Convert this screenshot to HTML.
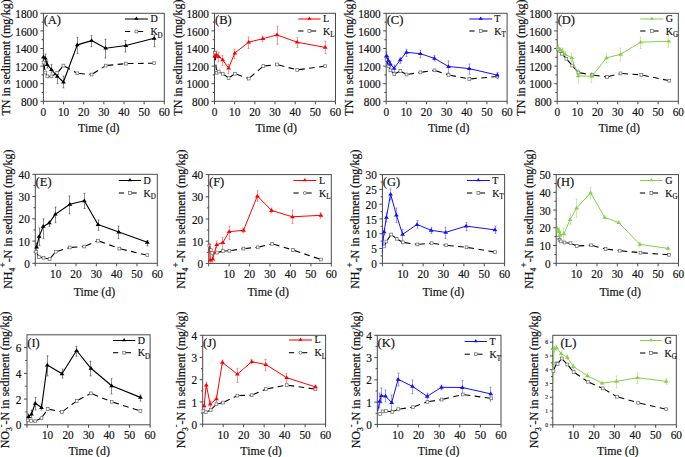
<!DOCTYPE html>
<html><head><meta charset="utf-8"><style>
html,body{margin:0;padding:0;background:#fff;}
body{width:685px;height:457px;overflow:hidden;font-family:"Liberation Serif", serif;}
svg{display:block;} text{stroke:#111;stroke-width:0.18px;}
</style></head><body>
<svg width="685" height="457" viewBox="0 0 685 457" font-family='"Liberation Serif", serif' fill="#111"><g><rect x="43.4" y="13.3" width="120.9" height="88" fill="none" stroke="#4a4a4a" stroke-width="1"/><line x1="43.4" y1="101.3" x2="43.4" y2="104.3" stroke="#4a4a4a" stroke-width="1"/><line x1="63.55" y1="101.3" x2="63.55" y2="104.3" stroke="#4a4a4a" stroke-width="1"/><line x1="83.7" y1="101.3" x2="83.7" y2="104.3" stroke="#4a4a4a" stroke-width="1"/><line x1="103.85" y1="101.3" x2="103.85" y2="104.3" stroke="#4a4a4a" stroke-width="1"/><line x1="124" y1="101.3" x2="124" y2="104.3" stroke="#4a4a4a" stroke-width="1"/><line x1="144.15" y1="101.3" x2="144.15" y2="104.3" stroke="#4a4a4a" stroke-width="1"/><line x1="164.3" y1="101.3" x2="164.3" y2="104.3" stroke="#4a4a4a" stroke-width="1"/><line x1="40.4" y1="101.3" x2="43.4" y2="101.3" stroke="#4a4a4a" stroke-width="1"/><line x1="40.4" y1="83.7" x2="43.4" y2="83.7" stroke="#4a4a4a" stroke-width="1"/><line x1="40.4" y1="66.1" x2="43.4" y2="66.1" stroke="#4a4a4a" stroke-width="1"/><line x1="40.4" y1="48.5" x2="43.4" y2="48.5" stroke="#4a4a4a" stroke-width="1"/><line x1="40.4" y1="30.9" x2="43.4" y2="30.9" stroke="#4a4a4a" stroke-width="1"/><line x1="40.4" y1="13.3" x2="43.4" y2="13.3" stroke="#4a4a4a" stroke-width="1"/><line x1="41.6" y1="92.5" x2="43.4" y2="92.5" stroke="#4a4a4a" stroke-width="1"/><line x1="41.6" y1="74.9" x2="43.4" y2="74.9" stroke="#4a4a4a" stroke-width="1"/><line x1="41.6" y1="57.3" x2="43.4" y2="57.3" stroke="#4a4a4a" stroke-width="1"/><line x1="41.6" y1="39.7" x2="43.4" y2="39.7" stroke="#4a4a4a" stroke-width="1"/><line x1="41.6" y1="22.1" x2="43.4" y2="22.1" stroke="#4a4a4a" stroke-width="1"/><text transform="translate(43.4 115.6) scale(1 1.15)" font-size="11.3" text-anchor="middle">0</text><text transform="translate(63.55 115.6) scale(1 1.15)" font-size="11.3" text-anchor="middle">10</text><text transform="translate(83.7 115.6) scale(1 1.15)" font-size="11.3" text-anchor="middle">20</text><text transform="translate(103.85 115.6) scale(1 1.15)" font-size="11.3" text-anchor="middle">30</text><text transform="translate(124 115.6) scale(1 1.15)" font-size="11.3" text-anchor="middle">40</text><text transform="translate(144.15 115.6) scale(1 1.15)" font-size="11.3" text-anchor="middle">50</text><text transform="translate(164.3 115.6) scale(1 1.15)" font-size="11.3" text-anchor="middle">60</text><text transform="translate(37.9 105.9) scale(1 1.15)" font-size="11.3" text-anchor="end">800</text><text transform="translate(37.9 88.3) scale(1 1.15)" font-size="11.3" text-anchor="end">1000</text><text transform="translate(37.9 70.7) scale(1 1.15)" font-size="11.3" text-anchor="end">1200</text><text transform="translate(37.9 53.1) scale(1 1.15)" font-size="11.3" text-anchor="end">1400</text><text transform="translate(37.9 35.5) scale(1 1.15)" font-size="11.3" text-anchor="end">1600</text><text transform="translate(37.9 17.9) scale(1 1.15)" font-size="11.3" text-anchor="end">1800</text><path d="M45.5 54V62M44.5 54H46.5M44.5 62H46.5" stroke="#333" stroke-width="0.8" opacity="0.7" fill="none"/><path d="M47.5 61V68M46.5 61H48.5M46.5 68H48.5" stroke="#333" stroke-width="0.8" opacity="0.7" fill="none"/><path d="M51.5 64.6V73M50.5 64.6H52.5M50.5 73H52.5" stroke="#333" stroke-width="0.8" opacity="0.7" fill="none"/><path d="M57.5 73V83.7M56.5 73H58.5M56.5 83.7H58.5" stroke="#333" stroke-width="0.8" opacity="0.7" fill="none"/><path d="M63.5 76.1V87.9M62.5 76.1H64.5M62.5 87.9H64.5" stroke="#333" stroke-width="0.8" opacity="0.7" fill="none"/><path d="M77.5 37.3V53.4M76.5 37.3H78.5M76.5 53.4H78.5" stroke="#333" stroke-width="0.8" opacity="0.7" fill="none"/><path d="M91.5 35.5V46.6M90.5 35.5H92.5M90.5 46.6H92.5" stroke="#333" stroke-width="0.8" opacity="0.7" fill="none"/><path d="M105.5 39.2V58M104.5 39.2H106.5M104.5 58H106.5" stroke="#333" stroke-width="0.8" opacity="0.7" fill="none"/><path d="M125.5 40.5V52M124.5 40.5H126.5M124.5 52H126.5" stroke="#333" stroke-width="0.8" opacity="0.7" fill="none"/><path d="M154.5 35V46.8M153.5 35H155.5M153.5 46.8H155.5" stroke="#333" stroke-width="0.8" opacity="0.7" fill="none"/><path d="M43.6 62.5L45.3 72.5" fill="none" stroke="#000" stroke-width="1.1" stroke-dasharray="5.7 4.4" stroke-dashoffset="-1.9"/><path d="M45.3 72.5L47.4 76.4" fill="none" stroke="#000" stroke-width="1.1" stroke-dasharray="5.7 4.4" stroke-dashoffset="-1.9"/><path d="M47.4 76.4L51.4 76.4" fill="none" stroke="#000" stroke-width="1.1" stroke-dasharray="5.7 4.4" stroke-dashoffset="-1.9"/><path d="M51.4 76.4L57.3 73" fill="none" stroke="#000" stroke-width="1.1" stroke-dasharray="5.7 4.4" stroke-dashoffset="-1.9"/><path d="M57.3 73L63.4 65.6" fill="none" stroke="#000" stroke-width="1.1" stroke-dasharray="5.7 4.4" stroke-dashoffset="-1.9"/><path d="M63.4 65.6L77.3 73.3" fill="none" stroke="#000" stroke-width="1.1" stroke-dasharray="5.7 4.4" stroke-dashoffset="-1.9"/><path d="M77.3 73.3L91.6 74.5" fill="none" stroke="#000" stroke-width="1.1" stroke-dasharray="5.7 4.4" stroke-dashoffset="-1.9"/><path d="M91.6 74.5L105.7 65.6" fill="none" stroke="#000" stroke-width="1.1" stroke-dasharray="5.7 4.4" stroke-dashoffset="-1.9"/><path d="M105.7 65.6L125.9 63.6" fill="none" stroke="#000" stroke-width="1.1" stroke-dasharray="5.7 4.4" stroke-dashoffset="-1.9"/><path d="M125.9 63.6L154.2 63.2" fill="none" stroke="#000" stroke-width="1.1" stroke-dasharray="5.7 4.4" stroke-dashoffset="-1.9"/><rect x="42.2" y="61.1" width="2.8" height="2.8" fill="#fff" stroke="#666" stroke-width="0.7"/><rect x="43.9" y="71.1" width="2.8" height="2.8" fill="#fff" stroke="#666" stroke-width="0.7"/><rect x="46" y="75" width="2.8" height="2.8" fill="#fff" stroke="#666" stroke-width="0.7"/><rect x="50" y="75" width="2.8" height="2.8" fill="#fff" stroke="#666" stroke-width="0.7"/><rect x="55.9" y="71.6" width="2.8" height="2.8" fill="#fff" stroke="#666" stroke-width="0.7"/><rect x="62" y="64.2" width="2.8" height="2.8" fill="#fff" stroke="#666" stroke-width="0.7"/><rect x="75.9" y="71.9" width="2.8" height="2.8" fill="#fff" stroke="#666" stroke-width="0.7"/><rect x="90.2" y="73.1" width="2.8" height="2.8" fill="#fff" stroke="#666" stroke-width="0.7"/><rect x="104.3" y="64.2" width="2.8" height="2.8" fill="#fff" stroke="#666" stroke-width="0.7"/><rect x="124.5" y="62.2" width="2.8" height="2.8" fill="#fff" stroke="#666" stroke-width="0.7"/><rect x="152.8" y="61.8" width="2.8" height="2.8" fill="#fff" stroke="#666" stroke-width="0.7"/><path d="M43.6 57 L45.3 58.2 L47.2 64.6 L51.4 69.5 L57.3 76.4 L63.4 82 L77.3 44.9 L91.6 40.6 L105.7 48.2 L125.9 45.5 L154.2 38.3" fill="none" stroke="#000000" stroke-width="1.15" stroke-linejoin="round"/><path d="M43.6 54.69L46 58.41L41.2 58.41Z" fill="#000000"/><path d="M45.3 55.89L47.7 59.61L42.9 59.61Z" fill="#000000"/><path d="M47.2 62.29L49.6 66.01L44.8 66.01Z" fill="#000000"/><path d="M51.4 67.19L53.8 70.91L49 70.91Z" fill="#000000"/><path d="M57.3 74.09L59.7 77.81L54.9 77.81Z" fill="#000000"/><path d="M63.4 79.69L65.8 83.41L61 83.41Z" fill="#000000"/><path d="M77.3 42.59L79.7 46.31L74.9 46.31Z" fill="#000000"/><path d="M91.6 38.29L94 42.01L89.2 42.01Z" fill="#000000"/><path d="M105.7 45.89L108.1 49.61L103.3 49.61Z" fill="#000000"/><path d="M125.9 43.19L128.3 46.91L123.5 46.91Z" fill="#000000"/><path d="M154.2 35.99L156.6 39.71L151.8 39.71Z" fill="#000000"/><line x1="124.9" y1="19" x2="147.9" y2="19" stroke="#000000" stroke-width="1.05"/><path d="M136.4 16.48L138.5 19.74L134.3 19.74Z" fill="#000000"/><line x1="124.9" y1="31.5" x2="130.2" y2="31.5" stroke="#000" stroke-width="1.05"/><line x1="137.9" y1="31.5" x2="143.2" y2="31.5" stroke="#000" stroke-width="1.05"/><rect x="135" y="30.1" width="2.8" height="2.8" fill="#fff" stroke="#666" stroke-width="0.7"/><text transform="translate(150.4 22.3) scale(1 1.1)" font-size="10">D</text><text transform="translate(150.4 35.2) scale(1 1.1)" font-size="10">K<tspan font-size="7" dy="2.4">D</tspan></text><text transform="translate(43.7 24.2) scale(1 1.05)" font-size="12.5">(A)</text><text transform="translate(98.8 131.9) scale(1 1.08)" font-size="11.9" text-anchor="middle">Time (d)</text><text transform="translate(10.4 115.6) rotate(-90) scale(1 1.1)" font-size="12">TN in sediment (mg/kg)</text></g>
<g><rect x="214.5" y="13.3" width="121" height="88" fill="none" stroke="#4a4a4a" stroke-width="1"/><line x1="214.5" y1="101.3" x2="214.5" y2="104.3" stroke="#4a4a4a" stroke-width="1"/><line x1="234.67" y1="101.3" x2="234.67" y2="104.3" stroke="#4a4a4a" stroke-width="1"/><line x1="254.83" y1="101.3" x2="254.83" y2="104.3" stroke="#4a4a4a" stroke-width="1"/><line x1="275" y1="101.3" x2="275" y2="104.3" stroke="#4a4a4a" stroke-width="1"/><line x1="295.17" y1="101.3" x2="295.17" y2="104.3" stroke="#4a4a4a" stroke-width="1"/><line x1="315.33" y1="101.3" x2="315.33" y2="104.3" stroke="#4a4a4a" stroke-width="1"/><line x1="335.5" y1="101.3" x2="335.5" y2="104.3" stroke="#4a4a4a" stroke-width="1"/><line x1="211.5" y1="101.3" x2="214.5" y2="101.3" stroke="#4a4a4a" stroke-width="1"/><line x1="211.5" y1="83.7" x2="214.5" y2="83.7" stroke="#4a4a4a" stroke-width="1"/><line x1="211.5" y1="66.1" x2="214.5" y2="66.1" stroke="#4a4a4a" stroke-width="1"/><line x1="211.5" y1="48.5" x2="214.5" y2="48.5" stroke="#4a4a4a" stroke-width="1"/><line x1="211.5" y1="30.9" x2="214.5" y2="30.9" stroke="#4a4a4a" stroke-width="1"/><line x1="211.5" y1="13.3" x2="214.5" y2="13.3" stroke="#4a4a4a" stroke-width="1"/><line x1="212.7" y1="92.5" x2="214.5" y2="92.5" stroke="#4a4a4a" stroke-width="1"/><line x1="212.7" y1="74.9" x2="214.5" y2="74.9" stroke="#4a4a4a" stroke-width="1"/><line x1="212.7" y1="57.3" x2="214.5" y2="57.3" stroke="#4a4a4a" stroke-width="1"/><line x1="212.7" y1="39.7" x2="214.5" y2="39.7" stroke="#4a4a4a" stroke-width="1"/><line x1="212.7" y1="22.1" x2="214.5" y2="22.1" stroke="#4a4a4a" stroke-width="1"/><text transform="translate(214.5 115.6) scale(1 1.15)" font-size="11.3" text-anchor="middle">0</text><text transform="translate(234.67 115.6) scale(1 1.15)" font-size="11.3" text-anchor="middle">10</text><text transform="translate(254.83 115.6) scale(1 1.15)" font-size="11.3" text-anchor="middle">20</text><text transform="translate(275 115.6) scale(1 1.15)" font-size="11.3" text-anchor="middle">30</text><text transform="translate(295.17 115.6) scale(1 1.15)" font-size="11.3" text-anchor="middle">40</text><text transform="translate(315.33 115.6) scale(1 1.15)" font-size="11.3" text-anchor="middle">50</text><text transform="translate(335.5 115.6) scale(1 1.15)" font-size="11.3" text-anchor="middle">60</text><text transform="translate(209 105.9) scale(1 1.15)" font-size="11.3" text-anchor="end">800</text><text transform="translate(209 88.3) scale(1 1.15)" font-size="11.3" text-anchor="end">1000</text><text transform="translate(209 70.7) scale(1 1.15)" font-size="11.3" text-anchor="end">1200</text><text transform="translate(209 53.1) scale(1 1.15)" font-size="11.3" text-anchor="end">1400</text><text transform="translate(209 35.5) scale(1 1.15)" font-size="11.3" text-anchor="end">1600</text><text transform="translate(209 17.9) scale(1 1.15)" font-size="11.3" text-anchor="end">1800</text><path d="M214.5 51V60M213.5 51H215.5M213.5 60H215.5" stroke="#ff0000" stroke-width="0.8" opacity="0.5" fill="none"/><path d="M216.5 51V58M215.5 51H217.5M215.5 58H217.5" stroke="#ff0000" stroke-width="0.8" opacity="0.5" fill="none"/><path d="M218.5 52.2V61.9M217.5 52.2H219.5M217.5 61.9H219.5" stroke="#ff0000" stroke-width="0.8" opacity="0.5" fill="none"/><path d="M222.5 55.3V65.4M221.5 55.3H223.5M221.5 65.4H223.5" stroke="#ff0000" stroke-width="0.8" opacity="0.5" fill="none"/><path d="M228.5 64.5V73.7M227.5 64.5H229.5M227.5 73.7H229.5" stroke="#ff0000" stroke-width="0.8" opacity="0.5" fill="none"/><path d="M234.5 49.2V58.4M233.5 49.2H235.5M233.5 58.4H235.5" stroke="#ff0000" stroke-width="0.8" opacity="0.5" fill="none"/><path d="M248.5 37V48.5M247.5 37H249.5M247.5 48.5H249.5" stroke="#ff0000" stroke-width="0.8" opacity="0.5" fill="none"/><path d="M262.5 36V41.4M261.5 36H263.5M261.5 41.4H263.5" stroke="#ff0000" stroke-width="0.8" opacity="0.5" fill="none"/><path d="M277.5 26.2V44.3M276.5 26.2H278.5M276.5 44.3H278.5" stroke="#ff0000" stroke-width="0.8" opacity="0.5" fill="none"/><path d="M297.5 37.7V47.4M296.5 37.7H298.5M296.5 47.4H298.5" stroke="#ff0000" stroke-width="0.8" opacity="0.5" fill="none"/><path d="M325.5 41.2V53.7M324.5 41.2H326.5M324.5 53.7H326.5" stroke="#ff0000" stroke-width="0.8" opacity="0.5" fill="none"/><path d="M214.8 52.7L216.6 72.8" fill="none" stroke="#000" stroke-width="1.1" stroke-dasharray="5.7 4.4" stroke-dashoffset="-1.9"/><path d="M216.6 72.8L218.7 71.5" fill="none" stroke="#000" stroke-width="1.1" stroke-dasharray="5.7 4.4" stroke-dashoffset="-1.9"/><path d="M218.7 71.5L222.7 73.7" fill="none" stroke="#000" stroke-width="1.1" stroke-dasharray="5.7 4.4" stroke-dashoffset="-1.9"/><path d="M222.7 73.7L228.6 78" fill="none" stroke="#000" stroke-width="1.1" stroke-dasharray="5.7 4.4" stroke-dashoffset="-1.9"/><path d="M228.6 78L234.9 73.7" fill="none" stroke="#000" stroke-width="1.1" stroke-dasharray="5.7 4.4" stroke-dashoffset="-1.9"/><path d="M234.9 73.7L248.7 78.6" fill="none" stroke="#000" stroke-width="1.1" stroke-dasharray="5.7 4.4" stroke-dashoffset="-1.9"/><path d="M248.7 78.6L263.3 66.1" fill="none" stroke="#000" stroke-width="1.1" stroke-dasharray="5.7 4.4" stroke-dashoffset="-1.9"/><path d="M263.3 66.1L277 64.5" fill="none" stroke="#000" stroke-width="1.1" stroke-dasharray="5.7 4.4" stroke-dashoffset="-1.9"/><path d="M277 64.5L297.2 69.9" fill="none" stroke="#000" stroke-width="1.1" stroke-dasharray="5.7 4.4" stroke-dashoffset="-1.9"/><path d="M297.2 69.9L325.2 66.1" fill="none" stroke="#000" stroke-width="1.1" stroke-dasharray="5.7 4.4" stroke-dashoffset="-1.9"/><rect x="213.4" y="51.3" width="2.8" height="2.8" fill="#fff" stroke="#666" stroke-width="0.7"/><rect x="215.2" y="71.4" width="2.8" height="2.8" fill="#fff" stroke="#666" stroke-width="0.7"/><rect x="217.3" y="70.1" width="2.8" height="2.8" fill="#fff" stroke="#666" stroke-width="0.7"/><rect x="221.3" y="72.3" width="2.8" height="2.8" fill="#fff" stroke="#666" stroke-width="0.7"/><rect x="227.2" y="76.6" width="2.8" height="2.8" fill="#fff" stroke="#666" stroke-width="0.7"/><rect x="233.5" y="72.3" width="2.8" height="2.8" fill="#fff" stroke="#666" stroke-width="0.7"/><rect x="247.3" y="77.2" width="2.8" height="2.8" fill="#fff" stroke="#666" stroke-width="0.7"/><rect x="261.9" y="64.7" width="2.8" height="2.8" fill="#fff" stroke="#666" stroke-width="0.7"/><rect x="275.6" y="63.1" width="2.8" height="2.8" fill="#fff" stroke="#666" stroke-width="0.7"/><rect x="295.8" y="68.5" width="2.8" height="2.8" fill="#fff" stroke="#666" stroke-width="0.7"/><rect x="323.8" y="64.7" width="2.8" height="2.8" fill="#fff" stroke="#666" stroke-width="0.7"/><path d="M214.9 55.5 L216.6 54.9 L218.6 56.6 L222.7 59.8 L228.6 68.2 L234.8 53 L248.7 42.2 L262.9 38.7 L277 34.9 L297.2 42.2 L325.2 47.4" fill="none" stroke="#ff0000" stroke-width="1.0" stroke-linejoin="round"/><path d="M214.9 53.19L217.3 56.91L212.5 56.91Z" fill="#ff0000"/><path d="M216.6 52.59L219 56.31L214.2 56.31Z" fill="#ff0000"/><path d="M218.6 54.29L221 58.01L216.2 58.01Z" fill="#ff0000"/><path d="M222.7 57.49L225.1 61.21L220.3 61.21Z" fill="#ff0000"/><path d="M228.6 65.89L231 69.61L226.2 69.61Z" fill="#ff0000"/><path d="M234.8 50.69L237.2 54.41L232.4 54.41Z" fill="#ff0000"/><path d="M248.7 39.89L251.1 43.61L246.3 43.61Z" fill="#ff0000"/><path d="M262.9 36.39L265.3 40.11L260.5 40.11Z" fill="#ff0000"/><path d="M277 32.59L279.4 36.31L274.6 36.31Z" fill="#ff0000"/><path d="M297.2 39.89L299.6 43.61L294.8 43.61Z" fill="#ff0000"/><path d="M325.2 45.09L327.6 48.81L322.8 48.81Z" fill="#ff0000"/><line x1="298.2" y1="19" x2="320.5" y2="19" stroke="#ff0000" stroke-width="1.05"/><path d="M309.35 16.48L311.45 19.74L307.25 19.74Z" fill="#ff0000"/><line x1="298.2" y1="31" x2="303.5" y2="31" stroke="#000" stroke-width="1.05"/><line x1="310.85" y1="31" x2="316.15" y2="31" stroke="#000" stroke-width="1.05"/><rect x="307.95" y="29.6" width="2.8" height="2.8" fill="#fff" stroke="#666" stroke-width="0.7"/><text transform="translate(323 22.2) scale(1 1.1)" font-size="10">L</text><text transform="translate(323 34.6) scale(1 1.1)" font-size="10">K<tspan font-size="7" dy="2.4">L</tspan></text><text transform="translate(215 24.2) scale(1 1.05)" font-size="12.5">(B)</text><text transform="translate(276.25 131.9) scale(1 1.08)" font-size="11.9" text-anchor="middle">Time (d)</text><text transform="translate(182.2 115.7) rotate(-90) scale(1 1.1)" font-size="12">TN in sediment (mg/kg)</text></g>
<g><rect x="386.2" y="13.3" width="120.9" height="88" fill="none" stroke="#4a4a4a" stroke-width="1"/><line x1="386.2" y1="101.3" x2="386.2" y2="104.3" stroke="#4a4a4a" stroke-width="1"/><line x1="406.35" y1="101.3" x2="406.35" y2="104.3" stroke="#4a4a4a" stroke-width="1"/><line x1="426.5" y1="101.3" x2="426.5" y2="104.3" stroke="#4a4a4a" stroke-width="1"/><line x1="446.65" y1="101.3" x2="446.65" y2="104.3" stroke="#4a4a4a" stroke-width="1"/><line x1="466.8" y1="101.3" x2="466.8" y2="104.3" stroke="#4a4a4a" stroke-width="1"/><line x1="486.95" y1="101.3" x2="486.95" y2="104.3" stroke="#4a4a4a" stroke-width="1"/><line x1="507.1" y1="101.3" x2="507.1" y2="104.3" stroke="#4a4a4a" stroke-width="1"/><line x1="383.2" y1="101.3" x2="386.2" y2="101.3" stroke="#4a4a4a" stroke-width="1"/><line x1="383.2" y1="83.7" x2="386.2" y2="83.7" stroke="#4a4a4a" stroke-width="1"/><line x1="383.2" y1="66.1" x2="386.2" y2="66.1" stroke="#4a4a4a" stroke-width="1"/><line x1="383.2" y1="48.5" x2="386.2" y2="48.5" stroke="#4a4a4a" stroke-width="1"/><line x1="383.2" y1="30.9" x2="386.2" y2="30.9" stroke="#4a4a4a" stroke-width="1"/><line x1="383.2" y1="13.3" x2="386.2" y2="13.3" stroke="#4a4a4a" stroke-width="1"/><line x1="384.4" y1="92.5" x2="386.2" y2="92.5" stroke="#4a4a4a" stroke-width="1"/><line x1="384.4" y1="74.9" x2="386.2" y2="74.9" stroke="#4a4a4a" stroke-width="1"/><line x1="384.4" y1="57.3" x2="386.2" y2="57.3" stroke="#4a4a4a" stroke-width="1"/><line x1="384.4" y1="39.7" x2="386.2" y2="39.7" stroke="#4a4a4a" stroke-width="1"/><line x1="384.4" y1="22.1" x2="386.2" y2="22.1" stroke="#4a4a4a" stroke-width="1"/><text transform="translate(386.2 115.6) scale(1 1.15)" font-size="11.3" text-anchor="middle">0</text><text transform="translate(406.35 115.6) scale(1 1.15)" font-size="11.3" text-anchor="middle">10</text><text transform="translate(426.5 115.6) scale(1 1.15)" font-size="11.3" text-anchor="middle">20</text><text transform="translate(446.65 115.6) scale(1 1.15)" font-size="11.3" text-anchor="middle">30</text><text transform="translate(466.8 115.6) scale(1 1.15)" font-size="11.3" text-anchor="middle">40</text><text transform="translate(486.95 115.6) scale(1 1.15)" font-size="11.3" text-anchor="middle">50</text><text transform="translate(507.1 115.6) scale(1 1.15)" font-size="11.3" text-anchor="middle">60</text><text transform="translate(380.7 105.9) scale(1 1.15)" font-size="11.3" text-anchor="end">800</text><text transform="translate(380.7 88.3) scale(1 1.15)" font-size="11.3" text-anchor="end">1000</text><text transform="translate(380.7 70.7) scale(1 1.15)" font-size="11.3" text-anchor="end">1200</text><text transform="translate(380.7 53.1) scale(1 1.15)" font-size="11.3" text-anchor="end">1400</text><text transform="translate(380.7 35.5) scale(1 1.15)" font-size="11.3" text-anchor="end">1600</text><text transform="translate(380.7 17.9) scale(1 1.15)" font-size="11.3" text-anchor="end">1800</text><path d="M386.5 52V59M385.5 52H387.5M385.5 59H387.5" stroke="#1010ff" stroke-width="0.8" opacity="0.5" fill="none"/><path d="M388.5 57V64M387.5 57H389.5M387.5 64H389.5" stroke="#1010ff" stroke-width="0.8" opacity="0.5" fill="none"/><path d="M390.5 61V67M389.5 61H391.5M389.5 67H391.5" stroke="#1010ff" stroke-width="0.8" opacity="0.5" fill="none"/><path d="M394.5 65V72M393.5 65H395.5M393.5 72H395.5" stroke="#1010ff" stroke-width="0.8" opacity="0.5" fill="none"/><path d="M400.5 57.6V63.4M399.5 57.6H401.5M399.5 63.4H401.5" stroke="#1010ff" stroke-width="0.8" opacity="0.5" fill="none"/><path d="M406.5 49.2V56.5M405.5 49.2H407.5M405.5 56.5H407.5" stroke="#1010ff" stroke-width="0.8" opacity="0.5" fill="none"/><path d="M420.5 50.1V57.8M419.5 50.1H421.5M419.5 57.8H421.5" stroke="#1010ff" stroke-width="0.8" opacity="0.5" fill="none"/><path d="M434.5 55.3V61M433.5 55.3H435.5M433.5 61H435.5" stroke="#1010ff" stroke-width="0.8" opacity="0.5" fill="none"/><path d="M448.5 60.9V72.4M447.5 60.9H449.5M447.5 72.4H449.5" stroke="#1010ff" stroke-width="0.8" opacity="0.5" fill="none"/><path d="M469.5 64V74.4M468.5 64H470.5M468.5 74.4H470.5" stroke="#1010ff" stroke-width="0.8" opacity="0.5" fill="none"/><path d="M497.5 72.4V78.6M496.5 72.4H498.5M496.5 78.6H498.5" stroke="#1010ff" stroke-width="0.8" opacity="0.5" fill="none"/><path d="M386.6 60L388.5 66.1" fill="none" stroke="#000" stroke-width="1.1" stroke-dasharray="5.7 4.4" stroke-dashoffset="-1.9"/><path d="M388.5 66.1L390.4 70.3" fill="none" stroke="#000" stroke-width="1.1" stroke-dasharray="5.7 4.4" stroke-dashoffset="-1.9"/><path d="M390.4 70.3L394.3 74.1" fill="none" stroke="#000" stroke-width="1.1" stroke-dasharray="5.7 4.4" stroke-dashoffset="-1.9"/><path d="M394.3 74.1L400.4 71" fill="none" stroke="#000" stroke-width="1.1" stroke-dasharray="5.7 4.4" stroke-dashoffset="-1.9"/><path d="M400.4 71L406.5 74.5" fill="none" stroke="#000" stroke-width="1.1" stroke-dasharray="5.7 4.4" stroke-dashoffset="-1.9"/><path d="M406.5 74.5L420.4 72.4" fill="none" stroke="#000" stroke-width="1.1" stroke-dasharray="5.7 4.4" stroke-dashoffset="-1.9"/><path d="M420.4 72.4L434.5 70.3" fill="none" stroke="#000" stroke-width="1.1" stroke-dasharray="5.7 4.4" stroke-dashoffset="-1.9"/><path d="M434.5 70.3L448.5 74.9" fill="none" stroke="#000" stroke-width="1.1" stroke-dasharray="5.7 4.4" stroke-dashoffset="-1.9"/><path d="M448.5 74.9L469.3 79" fill="none" stroke="#000" stroke-width="1.1" stroke-dasharray="5.7 4.4" stroke-dashoffset="-1.9"/><path d="M469.3 79L497.3 76.5" fill="none" stroke="#000" stroke-width="1.1" stroke-dasharray="5.7 4.4" stroke-dashoffset="-1.9"/><rect x="385.2" y="58.6" width="2.8" height="2.8" fill="#fff" stroke="#666" stroke-width="0.7"/><rect x="387.1" y="64.7" width="2.8" height="2.8" fill="#fff" stroke="#666" stroke-width="0.7"/><rect x="389" y="68.9" width="2.8" height="2.8" fill="#fff" stroke="#666" stroke-width="0.7"/><rect x="392.9" y="72.7" width="2.8" height="2.8" fill="#fff" stroke="#666" stroke-width="0.7"/><rect x="399" y="69.6" width="2.8" height="2.8" fill="#fff" stroke="#666" stroke-width="0.7"/><rect x="405.1" y="73.1" width="2.8" height="2.8" fill="#fff" stroke="#666" stroke-width="0.7"/><rect x="419" y="71" width="2.8" height="2.8" fill="#fff" stroke="#666" stroke-width="0.7"/><rect x="433.1" y="68.9" width="2.8" height="2.8" fill="#fff" stroke="#666" stroke-width="0.7"/><rect x="447.1" y="73.5" width="2.8" height="2.8" fill="#fff" stroke="#666" stroke-width="0.7"/><rect x="467.9" y="77.6" width="2.8" height="2.8" fill="#fff" stroke="#666" stroke-width="0.7"/><rect x="495.9" y="75.1" width="2.8" height="2.8" fill="#fff" stroke="#666" stroke-width="0.7"/><path d="M386.6 55.7 L388.3 60.3 L390.4 64.1 L394.1 68.4 L400.2 59.9 L406.4 52.3 L420.4 53.7 L434.5 58.4 L448.5 66.5 L469.3 68.6 L497.3 75.1" fill="none" stroke="#1010ff" stroke-width="1.0" stroke-linejoin="round"/><path d="M386.6 53.39L389 57.11L384.2 57.11Z" fill="#1010ff"/><path d="M388.3 57.99L390.7 61.71L385.9 61.71Z" fill="#1010ff"/><path d="M390.4 61.79L392.8 65.51L388 65.51Z" fill="#1010ff"/><path d="M394.1 66.09L396.5 69.81L391.7 69.81Z" fill="#1010ff"/><path d="M400.2 57.59L402.6 61.31L397.8 61.31Z" fill="#1010ff"/><path d="M406.4 49.99L408.8 53.71L404 53.71Z" fill="#1010ff"/><path d="M420.4 51.39L422.8 55.11L418 55.11Z" fill="#1010ff"/><path d="M434.5 56.09L436.9 59.81L432.1 59.81Z" fill="#1010ff"/><path d="M448.5 64.19L450.9 67.91L446.1 67.91Z" fill="#1010ff"/><path d="M469.3 66.29L471.7 70.01L466.9 70.01Z" fill="#1010ff"/><path d="M497.3 72.79L499.7 76.51L494.9 76.51Z" fill="#1010ff"/><line x1="469.3" y1="19" x2="492.1" y2="19" stroke="#1010ff" stroke-width="1.05"/><path d="M480.7 16.48L482.8 19.74L478.6 19.74Z" fill="#1010ff"/><line x1="469.3" y1="31" x2="474.6" y2="31" stroke="#000" stroke-width="1.05"/><line x1="482.2" y1="31" x2="487.5" y2="31" stroke="#000" stroke-width="1.05"/><rect x="479.3" y="29.6" width="2.8" height="2.8" fill="#fff" stroke="#666" stroke-width="0.7"/><text transform="translate(494.2 22.2) scale(1 1.1)" font-size="10">T</text><text transform="translate(494.2 34.6) scale(1 1.1)" font-size="10">K<tspan font-size="7" dy="2.4">T</tspan></text><text transform="translate(386.7 24.2) scale(1 1.05)" font-size="12.5">(C)</text><text transform="translate(448.65 131.9) scale(1 1.08)" font-size="11.9" text-anchor="middle">Time (d)</text><text transform="translate(352.7 115.7) rotate(-90) scale(1 1.1)" font-size="12">TN in sediment (mg/kg)</text></g>
<g><rect x="557.2" y="13.3" width="121.1" height="88" fill="none" stroke="#4a4a4a" stroke-width="1"/><line x1="557.2" y1="101.3" x2="557.2" y2="104.3" stroke="#4a4a4a" stroke-width="1"/><line x1="577.38" y1="101.3" x2="577.38" y2="104.3" stroke="#4a4a4a" stroke-width="1"/><line x1="597.57" y1="101.3" x2="597.57" y2="104.3" stroke="#4a4a4a" stroke-width="1"/><line x1="617.75" y1="101.3" x2="617.75" y2="104.3" stroke="#4a4a4a" stroke-width="1"/><line x1="637.93" y1="101.3" x2="637.93" y2="104.3" stroke="#4a4a4a" stroke-width="1"/><line x1="658.12" y1="101.3" x2="658.12" y2="104.3" stroke="#4a4a4a" stroke-width="1"/><line x1="678.3" y1="101.3" x2="678.3" y2="104.3" stroke="#4a4a4a" stroke-width="1"/><line x1="554.2" y1="101.3" x2="557.2" y2="101.3" stroke="#4a4a4a" stroke-width="1"/><line x1="554.2" y1="83.7" x2="557.2" y2="83.7" stroke="#4a4a4a" stroke-width="1"/><line x1="554.2" y1="66.1" x2="557.2" y2="66.1" stroke="#4a4a4a" stroke-width="1"/><line x1="554.2" y1="48.5" x2="557.2" y2="48.5" stroke="#4a4a4a" stroke-width="1"/><line x1="554.2" y1="30.9" x2="557.2" y2="30.9" stroke="#4a4a4a" stroke-width="1"/><line x1="554.2" y1="13.3" x2="557.2" y2="13.3" stroke="#4a4a4a" stroke-width="1"/><line x1="555.4" y1="92.5" x2="557.2" y2="92.5" stroke="#4a4a4a" stroke-width="1"/><line x1="555.4" y1="74.9" x2="557.2" y2="74.9" stroke="#4a4a4a" stroke-width="1"/><line x1="555.4" y1="57.3" x2="557.2" y2="57.3" stroke="#4a4a4a" stroke-width="1"/><line x1="555.4" y1="39.7" x2="557.2" y2="39.7" stroke="#4a4a4a" stroke-width="1"/><line x1="555.4" y1="22.1" x2="557.2" y2="22.1" stroke="#4a4a4a" stroke-width="1"/><text transform="translate(557.2 115.6) scale(1 1.15)" font-size="11.3" text-anchor="middle">0</text><text transform="translate(577.38 115.6) scale(1 1.15)" font-size="11.3" text-anchor="middle">10</text><text transform="translate(597.57 115.6) scale(1 1.15)" font-size="11.3" text-anchor="middle">20</text><text transform="translate(617.75 115.6) scale(1 1.15)" font-size="11.3" text-anchor="middle">30</text><text transform="translate(637.93 115.6) scale(1 1.15)" font-size="11.3" text-anchor="middle">40</text><text transform="translate(658.12 115.6) scale(1 1.15)" font-size="11.3" text-anchor="middle">50</text><text transform="translate(678.3 115.6) scale(1 1.15)" font-size="11.3" text-anchor="middle">60</text><text transform="translate(551.7 105.9) scale(1 1.15)" font-size="11.3" text-anchor="end">800</text><text transform="translate(551.7 88.3) scale(1 1.15)" font-size="11.3" text-anchor="end">1000</text><text transform="translate(551.7 70.7) scale(1 1.15)" font-size="11.3" text-anchor="end">1200</text><text transform="translate(551.7 53.1) scale(1 1.15)" font-size="11.3" text-anchor="end">1400</text><text transform="translate(551.7 35.5) scale(1 1.15)" font-size="11.3" text-anchor="end">1600</text><text transform="translate(551.7 17.9) scale(1 1.15)" font-size="11.3" text-anchor="end">1800</text><path d="M558.5 45V50.5M557.5 45H559.5M557.5 50.5H559.5" stroke="#84d247" stroke-width="0.8" opacity="0.5" fill="none"/><path d="M562.5 48V53.5M561.5 48H563.5M561.5 53.5H563.5" stroke="#84d247" stroke-width="0.8" opacity="0.5" fill="none"/><path d="M565.5 51V57M564.5 51H566.5M564.5 57H566.5" stroke="#84d247" stroke-width="0.8" opacity="0.5" fill="none"/><path d="M571.5 53.3V62M570.5 53.3H572.5M570.5 62H572.5" stroke="#84d247" stroke-width="0.8" opacity="0.5" fill="none"/><path d="M578.5 69.5V83.3M577.5 69.5H579.5M577.5 83.3H579.5" stroke="#84d247" stroke-width="0.8" opacity="0.5" fill="none"/><path d="M591.5 72.5V82.3M590.5 72.5H592.5M590.5 82.3H592.5" stroke="#84d247" stroke-width="0.8" opacity="0.5" fill="none"/><path d="M606.5 53.7V63M605.5 53.7H607.5M605.5 63H607.5" stroke="#84d247" stroke-width="0.8" opacity="0.5" fill="none"/><path d="M620.5 48V61M619.5 48H621.5M619.5 61H621.5" stroke="#84d247" stroke-width="0.8" opacity="0.5" fill="none"/><path d="M640.5 37V48.5M639.5 37H641.5M639.5 48.5H641.5" stroke="#84d247" stroke-width="0.8" opacity="0.5" fill="none"/><path d="M668.5 35V47.4M667.5 35H669.5M667.5 47.4H669.5" stroke="#84d247" stroke-width="0.8" opacity="0.5" fill="none"/><path d="M558.4 49.4L560.4 51.3" fill="none" stroke="#000" stroke-width="1.1" stroke-dasharray="5.7 4.4" stroke-dashoffset="-1.9"/><path d="M560.4 51.3L561.9 53.8" fill="none" stroke="#000" stroke-width="1.1" stroke-dasharray="5.7 4.4" stroke-dashoffset="-1.9"/><path d="M561.9 53.8L566.3 58.7" fill="none" stroke="#000" stroke-width="1.1" stroke-dasharray="5.7 4.4" stroke-dashoffset="-1.9"/><path d="M566.3 58.7L572.2 65.6" fill="none" stroke="#000" stroke-width="1.1" stroke-dasharray="5.7 4.4" stroke-dashoffset="-1.9"/><path d="M572.2 65.6L578.4 72.5" fill="none" stroke="#000" stroke-width="1.1" stroke-dasharray="5.7 4.4" stroke-dashoffset="-1.9"/><path d="M578.4 72.5L592.2 75" fill="none" stroke="#000" stroke-width="1.1" stroke-dasharray="5.7 4.4" stroke-dashoffset="-1.9"/><path d="M592.2 75L607 77" fill="none" stroke="#000" stroke-width="1.1" stroke-dasharray="5.7 4.4" stroke-dashoffset="-1.9"/><path d="M607 77L620.5 73.4" fill="none" stroke="#000" stroke-width="1.1" stroke-dasharray="5.7 4.4" stroke-dashoffset="-1.9"/><path d="M620.5 73.4L641.3 74.9" fill="none" stroke="#000" stroke-width="1.1" stroke-dasharray="5.7 4.4" stroke-dashoffset="-1.9"/><path d="M641.3 74.9L669.3 80.7" fill="none" stroke="#000" stroke-width="1.1" stroke-dasharray="5.7 4.4" stroke-dashoffset="-1.9"/><rect x="557" y="48" width="2.8" height="2.8" fill="#fff" stroke="#666" stroke-width="0.7"/><rect x="559" y="49.9" width="2.8" height="2.8" fill="#fff" stroke="#666" stroke-width="0.7"/><rect x="560.5" y="52.4" width="2.8" height="2.8" fill="#fff" stroke="#666" stroke-width="0.7"/><rect x="564.9" y="57.3" width="2.8" height="2.8" fill="#fff" stroke="#666" stroke-width="0.7"/><rect x="570.8" y="64.2" width="2.8" height="2.8" fill="#fff" stroke="#666" stroke-width="0.7"/><rect x="577" y="71.1" width="2.8" height="2.8" fill="#fff" stroke="#666" stroke-width="0.7"/><rect x="590.8" y="73.6" width="2.8" height="2.8" fill="#fff" stroke="#666" stroke-width="0.7"/><rect x="605.6" y="75.6" width="2.8" height="2.8" fill="#fff" stroke="#666" stroke-width="0.7"/><rect x="619.1" y="72" width="2.8" height="2.8" fill="#fff" stroke="#666" stroke-width="0.7"/><rect x="639.9" y="73.5" width="2.8" height="2.8" fill="#fff" stroke="#666" stroke-width="0.7"/><rect x="667.9" y="79.3" width="2.8" height="2.8" fill="#fff" stroke="#666" stroke-width="0.7"/><path d="M558.1 47.7 L559.9 49.4 L562.3 50.8 L565.3 54.3 L571.7 57.7 L578.1 75.9 L591.9 76.4 L606.5 57.8 L620.5 54.3 L640.6 42.2 L668.9 41.2" fill="none" stroke="#84d247" stroke-width="1.0" stroke-linejoin="round"/><path d="M558.1 45.39L560.5 49.11L555.7 49.11Z" fill="#84d247"/><path d="M559.9 47.09L562.3 50.81L557.5 50.81Z" fill="#84d247"/><path d="M562.3 48.49L564.7 52.21L559.9 52.21Z" fill="#84d247"/><path d="M565.3 51.99L567.7 55.71L562.9 55.71Z" fill="#84d247"/><path d="M571.7 55.39L574.1 59.11L569.3 59.11Z" fill="#84d247"/><path d="M578.1 73.59L580.5 77.31L575.7 77.31Z" fill="#84d247"/><path d="M591.9 74.09L594.3 77.81L589.5 77.81Z" fill="#84d247"/><path d="M606.5 55.49L608.9 59.21L604.1 59.21Z" fill="#84d247"/><path d="M620.5 51.99L622.9 55.71L618.1 55.71Z" fill="#84d247"/><path d="M640.6 39.89L643 43.61L638.2 43.61Z" fill="#84d247"/><path d="M668.9 38.89L671.3 42.61L666.5 42.61Z" fill="#84d247"/><line x1="640.2" y1="19" x2="663.5" y2="19" stroke="#84d247" stroke-width="1.05"/><path d="M651.85 16.48L653.95 19.74L649.75 19.74Z" fill="#84d247"/><line x1="640.2" y1="31" x2="645.5" y2="31" stroke="#000" stroke-width="1.05"/><line x1="653.35" y1="31" x2="658.65" y2="31" stroke="#000" stroke-width="1.05"/><rect x="650.45" y="29.6" width="2.8" height="2.8" fill="#fff" stroke="#666" stroke-width="0.7"/><text transform="translate(665.8 22.2) scale(1 1.1)" font-size="10">G</text><text transform="translate(665.8 34.6) scale(1 1.1)" font-size="10">K<tspan font-size="7" dy="2.4">G</tspan></text><text transform="translate(557.7 24.2) scale(1 1.05)" font-size="12.5">(D)</text><text transform="translate(619.15 131.9) scale(1 1.08)" font-size="11.9" text-anchor="middle">Time (d)</text><text transform="translate(525 115.7) rotate(-90) scale(1 1.1)" font-size="12">TN in sediment (mg/kg)</text></g>
<g><rect x="35.3" y="174.3" width="122" height="89" fill="none" stroke="#4a4a4a" stroke-width="1"/><line x1="35.3" y1="263.3" x2="35.3" y2="266.3" stroke="#4a4a4a" stroke-width="1"/><line x1="55.63" y1="263.3" x2="55.63" y2="266.3" stroke="#4a4a4a" stroke-width="1"/><line x1="75.97" y1="263.3" x2="75.97" y2="266.3" stroke="#4a4a4a" stroke-width="1"/><line x1="96.3" y1="263.3" x2="96.3" y2="266.3" stroke="#4a4a4a" stroke-width="1"/><line x1="116.63" y1="263.3" x2="116.63" y2="266.3" stroke="#4a4a4a" stroke-width="1"/><line x1="136.97" y1="263.3" x2="136.97" y2="266.3" stroke="#4a4a4a" stroke-width="1"/><line x1="157.3" y1="263.3" x2="157.3" y2="266.3" stroke="#4a4a4a" stroke-width="1"/><line x1="32.3" y1="263.3" x2="35.3" y2="263.3" stroke="#4a4a4a" stroke-width="1"/><line x1="32.3" y1="241.05" x2="35.3" y2="241.05" stroke="#4a4a4a" stroke-width="1"/><line x1="32.3" y1="218.8" x2="35.3" y2="218.8" stroke="#4a4a4a" stroke-width="1"/><line x1="32.3" y1="196.55" x2="35.3" y2="196.55" stroke="#4a4a4a" stroke-width="1"/><line x1="32.3" y1="174.3" x2="35.3" y2="174.3" stroke="#4a4a4a" stroke-width="1"/><line x1="33.5" y1="252.18" x2="35.3" y2="252.18" stroke="#4a4a4a" stroke-width="1"/><line x1="33.5" y1="229.93" x2="35.3" y2="229.93" stroke="#4a4a4a" stroke-width="1"/><line x1="33.5" y1="207.68" x2="35.3" y2="207.68" stroke="#4a4a4a" stroke-width="1"/><line x1="33.5" y1="185.43" x2="35.3" y2="185.43" stroke="#4a4a4a" stroke-width="1"/><text transform="translate(55.63 277.6) scale(1 1.15)" font-size="11.3" text-anchor="middle">10</text><text transform="translate(75.97 277.6) scale(1 1.15)" font-size="11.3" text-anchor="middle">20</text><text transform="translate(96.3 277.6) scale(1 1.15)" font-size="11.3" text-anchor="middle">30</text><text transform="translate(116.63 277.6) scale(1 1.15)" font-size="11.3" text-anchor="middle">40</text><text transform="translate(136.97 277.6) scale(1 1.15)" font-size="11.3" text-anchor="middle">50</text><text transform="translate(157.3 277.6) scale(1 1.15)" font-size="11.3" text-anchor="middle">60</text><text transform="translate(29.8 267.9) scale(1 1.15)" font-size="11.3" text-anchor="end">0</text><text transform="translate(29.8 245.65) scale(1 1.15)" font-size="11.3" text-anchor="end">10</text><text transform="translate(29.8 223.4) scale(1 1.15)" font-size="11.3" text-anchor="end">20</text><text transform="translate(29.8 201.15) scale(1 1.15)" font-size="11.3" text-anchor="end">30</text><text transform="translate(29.8 178.9) scale(1 1.15)" font-size="11.3" text-anchor="end">40</text><path d="M36.5 243V251M35.5 243H37.5M35.5 251H37.5" stroke="#333" stroke-width="0.8" opacity="0.7" fill="none"/><path d="M39.5 228V245.6M38.5 228H40.5M38.5 245.6H40.5" stroke="#333" stroke-width="0.8" opacity="0.7" fill="none"/><path d="M43.5 218.8V238.7M42.5 218.8H44.5M42.5 238.7H44.5" stroke="#333" stroke-width="0.8" opacity="0.7" fill="none"/><path d="M49.5 221V226.4M48.5 221H50.5M48.5 226.4H50.5" stroke="#333" stroke-width="0.8" opacity="0.7" fill="none"/><path d="M55.5 207V222.6M54.5 207H56.5M54.5 222.6H56.5" stroke="#333" stroke-width="0.8" opacity="0.7" fill="none"/><path d="M69.5 196V213.7M68.5 196H70.5M68.5 213.7H70.5" stroke="#333" stroke-width="0.8" opacity="0.7" fill="none"/><path d="M84.5 193.3V208.5M83.5 193.3H85.5M83.5 208.5H85.5" stroke="#333" stroke-width="0.8" opacity="0.7" fill="none"/><path d="M98.5 219.9V230.3M97.5 219.9H99.5M97.5 230.3H99.5" stroke="#333" stroke-width="0.8" opacity="0.7" fill="none"/><path d="M118.5 226.1V238.6M117.5 226.1H119.5M117.5 238.6H119.5" stroke="#333" stroke-width="0.8" opacity="0.7" fill="none"/><path d="M147.5 240.7V245.9M146.5 240.7H148.5M146.5 245.9H148.5" stroke="#333" stroke-width="0.8" opacity="0.7" fill="none"/><path d="M36.3 251.7L38.9 257.1" fill="none" stroke="#000" stroke-width="1.1" stroke-dasharray="5.7 4.4" stroke-dashoffset="-1.9"/><path d="M38.9 257.1L43.5 257.8" fill="none" stroke="#000" stroke-width="1.1" stroke-dasharray="5.7 4.4" stroke-dashoffset="-1.9"/><path d="M43.5 257.8L49.6 259" fill="none" stroke="#000" stroke-width="1.1" stroke-dasharray="5.7 4.4" stroke-dashoffset="-1.9"/><path d="M49.6 259L55.8 251.7" fill="none" stroke="#000" stroke-width="1.1" stroke-dasharray="5.7 4.4" stroke-dashoffset="-1.9"/><path d="M55.8 251.7L69.8 247.5" fill="none" stroke="#000" stroke-width="1.1" stroke-dasharray="5.7 4.4" stroke-dashoffset="-1.9"/><path d="M69.8 247.5L84.3 246.5" fill="none" stroke="#000" stroke-width="1.1" stroke-dasharray="5.7 4.4" stroke-dashoffset="-1.9"/><path d="M84.3 246.5L98 240.7" fill="none" stroke="#000" stroke-width="1.1" stroke-dasharray="5.7 4.4" stroke-dashoffset="-1.9"/><path d="M98 240.7L119.3 248.6" fill="none" stroke="#000" stroke-width="1.1" stroke-dasharray="5.7 4.4" stroke-dashoffset="-1.9"/><path d="M119.3 248.6L147.3 255.2" fill="none" stroke="#000" stroke-width="1.1" stroke-dasharray="5.7 4.4" stroke-dashoffset="-1.9"/><rect x="34.9" y="250.3" width="2.8" height="2.8" fill="#fff" stroke="#666" stroke-width="0.7"/><rect x="37.5" y="255.7" width="2.8" height="2.8" fill="#fff" stroke="#666" stroke-width="0.7"/><rect x="42.1" y="256.4" width="2.8" height="2.8" fill="#fff" stroke="#666" stroke-width="0.7"/><rect x="48.2" y="257.6" width="2.8" height="2.8" fill="#fff" stroke="#666" stroke-width="0.7"/><rect x="54.4" y="250.3" width="2.8" height="2.8" fill="#fff" stroke="#666" stroke-width="0.7"/><rect x="68.4" y="246.1" width="2.8" height="2.8" fill="#fff" stroke="#666" stroke-width="0.7"/><rect x="82.9" y="245.1" width="2.8" height="2.8" fill="#fff" stroke="#666" stroke-width="0.7"/><rect x="96.6" y="239.3" width="2.8" height="2.8" fill="#fff" stroke="#666" stroke-width="0.7"/><rect x="117.9" y="247.2" width="2.8" height="2.8" fill="#fff" stroke="#666" stroke-width="0.7"/><rect x="145.9" y="253.8" width="2.8" height="2.8" fill="#fff" stroke="#666" stroke-width="0.7"/><path d="M36.6 247.1 L39.2 236.4 L43.2 226.4 L49.3 222.9 L55.4 214.2 L69.9 204.3 L84.3 200.8 L98 224.5 L118.8 232 L147.3 242.3" fill="none" stroke="#000000" stroke-width="1.15" stroke-linejoin="round"/><path d="M36.6 244.79L39 248.51L34.2 248.51Z" fill="#000000"/><path d="M39.2 234.09L41.6 237.81L36.8 237.81Z" fill="#000000"/><path d="M43.2 224.09L45.6 227.81L40.8 227.81Z" fill="#000000"/><path d="M49.3 220.59L51.7 224.31L46.9 224.31Z" fill="#000000"/><path d="M55.4 211.89L57.8 215.61L53 215.61Z" fill="#000000"/><path d="M69.9 201.99L72.3 205.71L67.5 205.71Z" fill="#000000"/><path d="M84.3 198.49L86.7 202.21L81.9 202.21Z" fill="#000000"/><path d="M98 222.19L100.4 225.91L95.6 225.91Z" fill="#000000"/><path d="M118.8 229.69L121.2 233.41L116.4 233.41Z" fill="#000000"/><path d="M147.3 239.99L149.7 243.71L144.9 243.71Z" fill="#000000"/><line x1="118.8" y1="180.5" x2="141.1" y2="180.5" stroke="#000000" stroke-width="1.05"/><path d="M129.95 177.98L132.05 181.24L127.85 181.24Z" fill="#000000"/><line x1="118.8" y1="193" x2="124.1" y2="193" stroke="#000" stroke-width="1.05"/><line x1="131.45" y1="193" x2="136.75" y2="193" stroke="#000" stroke-width="1.05"/><rect x="128.55" y="191.6" width="2.8" height="2.8" fill="#fff" stroke="#666" stroke-width="0.7"/><text transform="translate(143.6 183.5) scale(1 1.1)" font-size="10">D</text><text transform="translate(143.6 196.7) scale(1 1.1)" font-size="10">K<tspan font-size="7" dy="2.4">D</tspan></text><text transform="translate(35.6 185.7) scale(1 1.05)" font-size="12.5">(E)</text><text transform="translate(94.4 295.7) scale(1 1.08)" font-size="11.9" text-anchor="middle">Time (d)</text><text transform="translate(11.8 288.8) rotate(-90) scale(1 1.1)" font-size="12">NH<tspan font-size="7.5" dy="2.8">4</tspan><tspan font-size="9.5" dy="-8.2">+</tspan><tspan dy="5.4">-N in sediment (mg/kg)</tspan></text></g>
<g><rect x="208.7" y="174.6" width="122.6" height="88.8" fill="none" stroke="#4a4a4a" stroke-width="1"/><line x1="208.7" y1="263.4" x2="208.7" y2="266.4" stroke="#4a4a4a" stroke-width="1"/><line x1="229.13" y1="263.4" x2="229.13" y2="266.4" stroke="#4a4a4a" stroke-width="1"/><line x1="249.57" y1="263.4" x2="249.57" y2="266.4" stroke="#4a4a4a" stroke-width="1"/><line x1="270" y1="263.4" x2="270" y2="266.4" stroke="#4a4a4a" stroke-width="1"/><line x1="290.43" y1="263.4" x2="290.43" y2="266.4" stroke="#4a4a4a" stroke-width="1"/><line x1="310.87" y1="263.4" x2="310.87" y2="266.4" stroke="#4a4a4a" stroke-width="1"/><line x1="331.3" y1="263.4" x2="331.3" y2="266.4" stroke="#4a4a4a" stroke-width="1"/><line x1="205.7" y1="263.4" x2="208.7" y2="263.4" stroke="#4a4a4a" stroke-width="1"/><line x1="205.7" y1="241.2" x2="208.7" y2="241.2" stroke="#4a4a4a" stroke-width="1"/><line x1="205.7" y1="219" x2="208.7" y2="219" stroke="#4a4a4a" stroke-width="1"/><line x1="205.7" y1="196.8" x2="208.7" y2="196.8" stroke="#4a4a4a" stroke-width="1"/><line x1="205.7" y1="174.6" x2="208.7" y2="174.6" stroke="#4a4a4a" stroke-width="1"/><line x1="206.9" y1="252.3" x2="208.7" y2="252.3" stroke="#4a4a4a" stroke-width="1"/><line x1="206.9" y1="230.1" x2="208.7" y2="230.1" stroke="#4a4a4a" stroke-width="1"/><line x1="206.9" y1="207.9" x2="208.7" y2="207.9" stroke="#4a4a4a" stroke-width="1"/><line x1="206.9" y1="185.7" x2="208.7" y2="185.7" stroke="#4a4a4a" stroke-width="1"/><text transform="translate(229.13 277.7) scale(1 1.15)" font-size="11.3" text-anchor="middle">10</text><text transform="translate(249.57 277.7) scale(1 1.15)" font-size="11.3" text-anchor="middle">20</text><text transform="translate(270 277.7) scale(1 1.15)" font-size="11.3" text-anchor="middle">30</text><text transform="translate(290.43 277.7) scale(1 1.15)" font-size="11.3" text-anchor="middle">40</text><text transform="translate(310.87 277.7) scale(1 1.15)" font-size="11.3" text-anchor="middle">50</text><text transform="translate(331.3 277.7) scale(1 1.15)" font-size="11.3" text-anchor="middle">60</text><text transform="translate(203.2 268) scale(1 1.15)" font-size="11.3" text-anchor="end">0</text><text transform="translate(203.2 245.8) scale(1 1.15)" font-size="11.3" text-anchor="end">10</text><text transform="translate(203.2 223.6) scale(1 1.15)" font-size="11.3" text-anchor="end">20</text><text transform="translate(203.2 201.4) scale(1 1.15)" font-size="11.3" text-anchor="end">30</text><text transform="translate(203.2 179.2) scale(1 1.15)" font-size="11.3" text-anchor="end">40</text><path d="M209.5 243.5V249M208.5 243.5H210.5M208.5 249H210.5" stroke="#ff0000" stroke-width="0.8" opacity="0.5" fill="none"/><path d="M210.5 257V263M209.5 257H211.5M209.5 263H211.5" stroke="#ff0000" stroke-width="0.8" opacity="0.5" fill="none"/><path d="M212.5 255V262M211.5 255H213.5M211.5 262H213.5" stroke="#ff0000" stroke-width="0.8" opacity="0.5" fill="none"/><path d="M216.5 241V248M215.5 241H217.5M215.5 248H217.5" stroke="#ff0000" stroke-width="0.8" opacity="0.5" fill="none"/><path d="M222.5 237.3V249.1M221.5 237.3H223.5M221.5 249.1H223.5" stroke="#ff0000" stroke-width="0.8" opacity="0.5" fill="none"/><path d="M229.5 226V239.6M228.5 226H230.5M228.5 239.6H230.5" stroke="#ff0000" stroke-width="0.8" opacity="0.5" fill="none"/><path d="M243.5 228V232.5M242.5 228H244.5M242.5 232.5H244.5" stroke="#ff0000" stroke-width="0.8" opacity="0.5" fill="none"/><path d="M257.5 190.8V201.2M256.5 190.8H258.5M256.5 201.2H258.5" stroke="#ff0000" stroke-width="0.8" opacity="0.5" fill="none"/><path d="M271.5 208V213M270.5 208H272.5M270.5 213H272.5" stroke="#ff0000" stroke-width="0.8" opacity="0.5" fill="none"/><path d="M292.5 210V223.4M291.5 210H293.5M291.5 223.4H293.5" stroke="#ff0000" stroke-width="0.8" opacity="0.5" fill="none"/><path d="M320.5 212.6V218.2M319.5 212.6H321.5M319.5 218.2H321.5" stroke="#ff0000" stroke-width="0.8" opacity="0.5" fill="none"/><path d="M209.4 245.7L210.8 250.1" fill="none" stroke="#000" stroke-width="1.1" stroke-dasharray="5.7 4.4" stroke-dashoffset="-1.9"/><path d="M210.8 250.1L212.3 253.1" fill="none" stroke="#000" stroke-width="1.1" stroke-dasharray="5.7 4.4" stroke-dashoffset="-1.9"/><path d="M212.3 253.1L217.2 252.6" fill="none" stroke="#000" stroke-width="1.1" stroke-dasharray="5.7 4.4" stroke-dashoffset="-1.9"/><path d="M217.2 252.6L222.9 251.1" fill="none" stroke="#000" stroke-width="1.1" stroke-dasharray="5.7 4.4" stroke-dashoffset="-1.9"/><path d="M222.9 251.1L229.4 250.8" fill="none" stroke="#000" stroke-width="1.1" stroke-dasharray="5.7 4.4" stroke-dashoffset="-1.9"/><path d="M229.4 250.8L243.5 248.6" fill="none" stroke="#000" stroke-width="1.1" stroke-dasharray="5.7 4.4" stroke-dashoffset="-1.9"/><path d="M243.5 248.6L257.7 247.3" fill="none" stroke="#000" stroke-width="1.1" stroke-dasharray="5.7 4.4" stroke-dashoffset="-1.9"/><path d="M257.7 247.3L272.2 243.8" fill="none" stroke="#000" stroke-width="1.1" stroke-dasharray="5.7 4.4" stroke-dashoffset="-1.9"/><path d="M272.2 243.8L293 250" fill="none" stroke="#000" stroke-width="1.1" stroke-dasharray="5.7 4.4" stroke-dashoffset="-1.9"/><path d="M293 250L320.9 259.5" fill="none" stroke="#000" stroke-width="1.1" stroke-dasharray="5.7 4.4" stroke-dashoffset="-1.9"/><rect x="208" y="244.3" width="2.8" height="2.8" fill="#fff" stroke="#666" stroke-width="0.7"/><rect x="209.4" y="248.7" width="2.8" height="2.8" fill="#fff" stroke="#666" stroke-width="0.7"/><rect x="210.9" y="251.7" width="2.8" height="2.8" fill="#fff" stroke="#666" stroke-width="0.7"/><rect x="215.8" y="251.2" width="2.8" height="2.8" fill="#fff" stroke="#666" stroke-width="0.7"/><rect x="221.5" y="249.7" width="2.8" height="2.8" fill="#fff" stroke="#666" stroke-width="0.7"/><rect x="228" y="249.4" width="2.8" height="2.8" fill="#fff" stroke="#666" stroke-width="0.7"/><rect x="242.1" y="247.2" width="2.8" height="2.8" fill="#fff" stroke="#666" stroke-width="0.7"/><rect x="256.3" y="245.9" width="2.8" height="2.8" fill="#fff" stroke="#666" stroke-width="0.7"/><rect x="270.8" y="242.4" width="2.8" height="2.8" fill="#fff" stroke="#666" stroke-width="0.7"/><rect x="291.6" y="248.6" width="2.8" height="2.8" fill="#fff" stroke="#666" stroke-width="0.7"/><rect x="319.5" y="258.1" width="2.8" height="2.8" fill="#fff" stroke="#666" stroke-width="0.7"/><path d="M209.4 245.4 L210.3 260 L212.8 259 L216.7 244.7 L222.9 242.5 L229.1 231.7 L243.5 230.3 L257.4 196 L271.6 210.5 L292.4 216.8 L320.9 215.3" fill="none" stroke="#ff0000" stroke-width="1.0" stroke-linejoin="round"/><path d="M210.3 257.69L212.7 261.41L207.9 261.41Z" fill="#ff0000"/><path d="M212.8 256.69L215.2 260.41L210.4 260.41Z" fill="#ff0000"/><path d="M216.7 242.39L219.1 246.11L214.3 246.11Z" fill="#ff0000"/><path d="M222.9 240.19L225.3 243.91L220.5 243.91Z" fill="#ff0000"/><path d="M229.1 229.39L231.5 233.11L226.7 233.11Z" fill="#ff0000"/><path d="M243.5 227.99L245.9 231.71L241.1 231.71Z" fill="#ff0000"/><path d="M257.4 193.69L259.8 197.41L255 197.41Z" fill="#ff0000"/><path d="M271.6 208.19L274 211.91L269.2 211.91Z" fill="#ff0000"/><path d="M292.4 214.49L294.8 218.21L290 218.21Z" fill="#ff0000"/><path d="M320.9 212.99L323.3 216.71L318.5 216.71Z" fill="#ff0000"/><line x1="293.4" y1="180.5" x2="316.3" y2="180.5" stroke="#ff0000" stroke-width="1.05"/><path d="M304.85 177.98L306.95 181.24L302.75 181.24Z" fill="#ff0000"/><line x1="293.4" y1="193" x2="298.7" y2="193" stroke="#000" stroke-width="1.05"/><line x1="306.35" y1="193" x2="311.65" y2="193" stroke="#000" stroke-width="1.05"/><circle cx="304.85" cy="193" r="1.5" fill="#fff" stroke="#555" stroke-width="0.7"/><text transform="translate(319 183.5) scale(1 1.1)" font-size="10">L</text><text transform="translate(319 196.7) scale(1 1.1)" font-size="10">K<tspan font-size="7" dy="2.4">L</tspan></text><text transform="translate(209 185.7) scale(1 1.05)" font-size="12.5">(F)</text><text transform="translate(268.25 295.7) scale(1 1.08)" font-size="11.9" text-anchor="middle">Time (d)</text><text transform="translate(185.1 288.8) rotate(-90) scale(1 1.1)" font-size="12">NH<tspan font-size="7.5" dy="2.8">4</tspan><tspan font-size="9.5" dy="-8.2">+</tspan><tspan dy="5.4">-N in sediment (mg/kg)</tspan></text></g>
<g><rect x="382.4" y="174.6" width="122.2" height="88.7" fill="none" stroke="#4a4a4a" stroke-width="1"/><line x1="382.4" y1="263.3" x2="382.4" y2="266.3" stroke="#4a4a4a" stroke-width="1"/><line x1="402.77" y1="263.3" x2="402.77" y2="266.3" stroke="#4a4a4a" stroke-width="1"/><line x1="423.13" y1="263.3" x2="423.13" y2="266.3" stroke="#4a4a4a" stroke-width="1"/><line x1="443.5" y1="263.3" x2="443.5" y2="266.3" stroke="#4a4a4a" stroke-width="1"/><line x1="463.87" y1="263.3" x2="463.87" y2="266.3" stroke="#4a4a4a" stroke-width="1"/><line x1="484.23" y1="263.3" x2="484.23" y2="266.3" stroke="#4a4a4a" stroke-width="1"/><line x1="504.6" y1="263.3" x2="504.6" y2="266.3" stroke="#4a4a4a" stroke-width="1"/><line x1="379.4" y1="263.3" x2="382.4" y2="263.3" stroke="#4a4a4a" stroke-width="1"/><line x1="379.4" y1="248.52" x2="382.4" y2="248.52" stroke="#4a4a4a" stroke-width="1"/><line x1="379.4" y1="233.73" x2="382.4" y2="233.73" stroke="#4a4a4a" stroke-width="1"/><line x1="379.4" y1="218.95" x2="382.4" y2="218.95" stroke="#4a4a4a" stroke-width="1"/><line x1="379.4" y1="204.17" x2="382.4" y2="204.17" stroke="#4a4a4a" stroke-width="1"/><line x1="379.4" y1="189.38" x2="382.4" y2="189.38" stroke="#4a4a4a" stroke-width="1"/><line x1="379.4" y1="174.6" x2="382.4" y2="174.6" stroke="#4a4a4a" stroke-width="1"/><line x1="380.6" y1="255.91" x2="382.4" y2="255.91" stroke="#4a4a4a" stroke-width="1"/><line x1="380.6" y1="241.12" x2="382.4" y2="241.12" stroke="#4a4a4a" stroke-width="1"/><line x1="380.6" y1="226.34" x2="382.4" y2="226.34" stroke="#4a4a4a" stroke-width="1"/><line x1="380.6" y1="211.56" x2="382.4" y2="211.56" stroke="#4a4a4a" stroke-width="1"/><line x1="380.6" y1="196.78" x2="382.4" y2="196.78" stroke="#4a4a4a" stroke-width="1"/><line x1="380.6" y1="181.99" x2="382.4" y2="181.99" stroke="#4a4a4a" stroke-width="1"/><text transform="translate(402.77 277.6) scale(1 1.15)" font-size="11.3" text-anchor="middle">10</text><text transform="translate(423.13 277.6) scale(1 1.15)" font-size="11.3" text-anchor="middle">20</text><text transform="translate(443.5 277.6) scale(1 1.15)" font-size="11.3" text-anchor="middle">30</text><text transform="translate(463.87 277.6) scale(1 1.15)" font-size="11.3" text-anchor="middle">40</text><text transform="translate(484.23 277.6) scale(1 1.15)" font-size="11.3" text-anchor="middle">50</text><text transform="translate(504.6 277.6) scale(1 1.15)" font-size="11.3" text-anchor="middle">60</text><text transform="translate(376.9 267.9) scale(1 1.15)" font-size="11.3" text-anchor="end">0</text><text transform="translate(376.9 253.11) scale(1 1.15)" font-size="11.3" text-anchor="end">5</text><text transform="translate(376.9 238.33) scale(1 1.15)" font-size="11.3" text-anchor="end">10</text><text transform="translate(376.9 223.55) scale(1 1.15)" font-size="11.3" text-anchor="end">15</text><text transform="translate(376.9 208.76) scale(1 1.15)" font-size="11.3" text-anchor="end">20</text><text transform="translate(376.9 193.98) scale(1 1.15)" font-size="11.3" text-anchor="end">25</text><text transform="translate(376.9 179.2) scale(1 1.15)" font-size="11.3" text-anchor="end">30</text><path d="M382.5 244V252M381.5 244H383.5M381.5 252H383.5" stroke="#1010ff" stroke-width="0.8" opacity="0.5" fill="none"/><path d="M384.5 229V235M383.5 229H385.5M383.5 235H385.5" stroke="#1010ff" stroke-width="0.8" opacity="0.5" fill="none"/><path d="M386.5 213V222M385.5 213H387.5M385.5 222H387.5" stroke="#1010ff" stroke-width="0.8" opacity="0.5" fill="none"/><path d="M390.5 188.8V200M389.5 188.8H391.5M389.5 200H391.5" stroke="#1010ff" stroke-width="0.8" opacity="0.5" fill="none"/><path d="M396.5 208V222.6M395.5 208H397.5M395.5 222.6H397.5" stroke="#1010ff" stroke-width="0.8" opacity="0.5" fill="none"/><path d="M402.5 229.5V240.3M401.5 229.5H403.5M401.5 240.3H403.5" stroke="#1010ff" stroke-width="0.8" opacity="0.5" fill="none"/><path d="M417.5 220.5V228.2M416.5 220.5H418.5M416.5 228.2H418.5" stroke="#1010ff" stroke-width="0.8" opacity="0.5" fill="none"/><path d="M431.5 227.2V233.4M430.5 227.2H432.5M430.5 233.4H432.5" stroke="#1010ff" stroke-width="0.8" opacity="0.5" fill="none"/><path d="M445.5 227.2V238.6M444.5 227.2H446.5M444.5 238.6H446.5" stroke="#1010ff" stroke-width="0.8" opacity="0.5" fill="none"/><path d="M466.5 222.4V230.7M465.5 222.4H467.5M465.5 230.7H467.5" stroke="#1010ff" stroke-width="0.8" opacity="0.5" fill="none"/><path d="M495.5 226.1V233.4M494.5 226.1H496.5M494.5 233.4H496.5" stroke="#1010ff" stroke-width="0.8" opacity="0.5" fill="none"/><path d="M384.1 246.4L386.4 241.5" fill="none" stroke="#000" stroke-width="1.1" stroke-dasharray="5.7 4.4" stroke-dashoffset="-1.9"/><path d="M386.4 241.5L391.1 234.5" fill="none" stroke="#000" stroke-width="1.1" stroke-dasharray="5.7 4.4" stroke-dashoffset="-1.9"/><path d="M391.1 234.5L396.7 238.8" fill="none" stroke="#000" stroke-width="1.1" stroke-dasharray="5.7 4.4" stroke-dashoffset="-1.9"/><path d="M396.7 238.8L402.9 242.4" fill="none" stroke="#000" stroke-width="1.1" stroke-dasharray="5.7 4.4" stroke-dashoffset="-1.9"/><path d="M402.9 242.4L417.3 244.4" fill="none" stroke="#000" stroke-width="1.1" stroke-dasharray="5.7 4.4" stroke-dashoffset="-1.9"/><path d="M417.3 244.4L431.6 243.2" fill="none" stroke="#000" stroke-width="1.1" stroke-dasharray="5.7 4.4" stroke-dashoffset="-1.9"/><path d="M431.6 243.2L446.2 245.3" fill="none" stroke="#000" stroke-width="1.1" stroke-dasharray="5.7 4.4" stroke-dashoffset="-1.9"/><path d="M446.2 245.3L466.5 247.3" fill="none" stroke="#000" stroke-width="1.1" stroke-dasharray="5.7 4.4" stroke-dashoffset="-1.9"/><path d="M466.5 247.3L495.2 252.1" fill="none" stroke="#000" stroke-width="1.1" stroke-dasharray="5.7 4.4" stroke-dashoffset="-1.9"/><rect x="382.7" y="245" width="2.8" height="2.8" fill="#fff" stroke="#666" stroke-width="0.7"/><rect x="385" y="240.1" width="2.8" height="2.8" fill="#fff" stroke="#666" stroke-width="0.7"/><rect x="389.7" y="233.1" width="2.8" height="2.8" fill="#fff" stroke="#666" stroke-width="0.7"/><rect x="395.3" y="237.4" width="2.8" height="2.8" fill="#fff" stroke="#666" stroke-width="0.7"/><rect x="401.5" y="241" width="2.8" height="2.8" fill="#fff" stroke="#666" stroke-width="0.7"/><rect x="415.9" y="243" width="2.8" height="2.8" fill="#fff" stroke="#666" stroke-width="0.7"/><rect x="430.2" y="241.8" width="2.8" height="2.8" fill="#fff" stroke="#666" stroke-width="0.7"/><rect x="444.8" y="243.9" width="2.8" height="2.8" fill="#fff" stroke="#666" stroke-width="0.7"/><rect x="465.1" y="245.9" width="2.8" height="2.8" fill="#fff" stroke="#666" stroke-width="0.7"/><rect x="493.8" y="250.7" width="2.8" height="2.8" fill="#fff" stroke="#666" stroke-width="0.7"/><path d="M382.5 246.5 L384.1 231.8 L386.4 217.3 L390.6 194.2 L396.4 215 L402.6 234.4 L417 224.5 L431.2 230.3 L445.7 232.4 L466.1 226.1 L495 229.9" fill="none" stroke="#1010ff" stroke-width="1.0" stroke-linejoin="round"/><path d="M384.1 229.49L386.5 233.21L381.7 233.21Z" fill="#1010ff"/><path d="M386.4 214.99L388.8 218.71L384 218.71Z" fill="#1010ff"/><path d="M390.6 191.89L393 195.61L388.2 195.61Z" fill="#1010ff"/><path d="M396.4 212.69L398.8 216.41L394 216.41Z" fill="#1010ff"/><path d="M402.6 232.09L405 235.81L400.2 235.81Z" fill="#1010ff"/><path d="M417 222.19L419.4 225.91L414.6 225.91Z" fill="#1010ff"/><path d="M431.2 227.99L433.6 231.71L428.8 231.71Z" fill="#1010ff"/><path d="M445.7 230.09L448.1 233.81L443.3 233.81Z" fill="#1010ff"/><path d="M466.1 223.79L468.5 227.51L463.7 227.51Z" fill="#1010ff"/><path d="M495 227.59L497.4 231.31L492.6 231.31Z" fill="#1010ff"/><line x1="466.9" y1="180.5" x2="489.8" y2="180.5" stroke="#1010ff" stroke-width="1.05"/><path d="M478.35 177.98L480.45 181.24L476.25 181.24Z" fill="#1010ff"/><line x1="466.9" y1="193" x2="472.2" y2="193" stroke="#000" stroke-width="1.05"/><line x1="479.85" y1="193" x2="485.15" y2="193" stroke="#000" stroke-width="1.05"/><rect x="476.95" y="191.6" width="2.8" height="2.8" fill="#fff" stroke="#666" stroke-width="0.7"/><text transform="translate(492.3 183.5) scale(1 1.1)" font-size="10">T</text><text transform="translate(492.3 196.7) scale(1 1.1)" font-size="10">K<tspan font-size="7" dy="2.4">T</tspan></text><text transform="translate(382.8 185.7) scale(1 1.05)" font-size="12.5">(G)</text><text transform="translate(443.35 295.7) scale(1 1.08)" font-size="11.9" text-anchor="middle">Time (d)</text><text transform="translate(358.8 288.8) rotate(-90) scale(1 1.1)" font-size="12">NH<tspan font-size="7.5" dy="2.8">4</tspan><tspan font-size="9.5" dy="-8.2">+</tspan><tspan dy="5.4">-N in sediment (mg/kg)</tspan></text></g>
<g><rect x="556.2" y="174.6" width="122.3" height="88.7" fill="none" stroke="#4a4a4a" stroke-width="1"/><line x1="556.2" y1="263.3" x2="556.2" y2="266.3" stroke="#4a4a4a" stroke-width="1"/><line x1="576.58" y1="263.3" x2="576.58" y2="266.3" stroke="#4a4a4a" stroke-width="1"/><line x1="596.97" y1="263.3" x2="596.97" y2="266.3" stroke="#4a4a4a" stroke-width="1"/><line x1="617.35" y1="263.3" x2="617.35" y2="266.3" stroke="#4a4a4a" stroke-width="1"/><line x1="637.73" y1="263.3" x2="637.73" y2="266.3" stroke="#4a4a4a" stroke-width="1"/><line x1="658.12" y1="263.3" x2="658.12" y2="266.3" stroke="#4a4a4a" stroke-width="1"/><line x1="678.5" y1="263.3" x2="678.5" y2="266.3" stroke="#4a4a4a" stroke-width="1"/><line x1="553.2" y1="263.3" x2="556.2" y2="263.3" stroke="#4a4a4a" stroke-width="1"/><line x1="553.2" y1="245.56" x2="556.2" y2="245.56" stroke="#4a4a4a" stroke-width="1"/><line x1="553.2" y1="227.82" x2="556.2" y2="227.82" stroke="#4a4a4a" stroke-width="1"/><line x1="553.2" y1="210.08" x2="556.2" y2="210.08" stroke="#4a4a4a" stroke-width="1"/><line x1="553.2" y1="192.34" x2="556.2" y2="192.34" stroke="#4a4a4a" stroke-width="1"/><line x1="553.2" y1="174.6" x2="556.2" y2="174.6" stroke="#4a4a4a" stroke-width="1"/><line x1="554.4" y1="254.43" x2="556.2" y2="254.43" stroke="#4a4a4a" stroke-width="1"/><line x1="554.4" y1="236.69" x2="556.2" y2="236.69" stroke="#4a4a4a" stroke-width="1"/><line x1="554.4" y1="218.95" x2="556.2" y2="218.95" stroke="#4a4a4a" stroke-width="1"/><line x1="554.4" y1="201.21" x2="556.2" y2="201.21" stroke="#4a4a4a" stroke-width="1"/><line x1="554.4" y1="183.47" x2="556.2" y2="183.47" stroke="#4a4a4a" stroke-width="1"/><text transform="translate(576.58 277.6) scale(1 1.15)" font-size="11.3" text-anchor="middle">10</text><text transform="translate(596.97 277.6) scale(1 1.15)" font-size="11.3" text-anchor="middle">20</text><text transform="translate(617.35 277.6) scale(1 1.15)" font-size="11.3" text-anchor="middle">30</text><text transform="translate(637.73 277.6) scale(1 1.15)" font-size="11.3" text-anchor="middle">40</text><text transform="translate(658.12 277.6) scale(1 1.15)" font-size="11.3" text-anchor="middle">50</text><text transform="translate(678.5 277.6) scale(1 1.15)" font-size="11.3" text-anchor="middle">60</text><text transform="translate(550.7 267.9) scale(1 1.15)" font-size="11.3" text-anchor="end">0</text><text transform="translate(550.7 250.16) scale(1 1.15)" font-size="11.3" text-anchor="end">10</text><text transform="translate(550.7 232.42) scale(1 1.15)" font-size="11.3" text-anchor="end">20</text><text transform="translate(550.7 214.68) scale(1 1.15)" font-size="11.3" text-anchor="end">30</text><text transform="translate(550.7 196.94) scale(1 1.15)" font-size="11.3" text-anchor="end">40</text><text transform="translate(550.7 179.2) scale(1 1.15)" font-size="11.3" text-anchor="end">50</text><path d="M557.5 226V232M556.5 226H558.5M556.5 232H558.5" stroke="#84d247" stroke-width="0.8" opacity="0.5" fill="none"/><path d="M559.5 228V235M558.5 228H560.5M558.5 235H560.5" stroke="#84d247" stroke-width="0.8" opacity="0.5" fill="none"/><path d="M560.5 231V238M559.5 231H561.5M559.5 238H561.5" stroke="#84d247" stroke-width="0.8" opacity="0.5" fill="none"/><path d="M563.5 228V243M562.5 228H564.5M562.5 243H564.5" stroke="#84d247" stroke-width="0.8" opacity="0.5" fill="none"/><path d="M570.5 214V225M569.5 214H571.5M569.5 225H571.5" stroke="#84d247" stroke-width="0.8" opacity="0.5" fill="none"/><path d="M576.5 199.1V217.4M575.5 199.1H577.5M575.5 217.4H577.5" stroke="#84d247" stroke-width="0.8" opacity="0.5" fill="none"/><path d="M590.5 187.7V199.1M589.5 187.7H591.5M589.5 199.1H591.5" stroke="#84d247" stroke-width="0.8" opacity="0.5" fill="none"/><path d="M639.5 242.8V246.9M638.5 242.8H640.5M638.5 246.9H640.5" stroke="#84d247" stroke-width="0.8" opacity="0.5" fill="none"/><path d="M557.9 237.7L559.6 239.9" fill="none" stroke="#000" stroke-width="1.1" stroke-dasharray="5.7 4.4" stroke-dashoffset="-1.9"/><path d="M559.6 239.9L560.7 241.4" fill="none" stroke="#000" stroke-width="1.1" stroke-dasharray="5.7 4.4" stroke-dashoffset="-1.9"/><path d="M560.7 241.4L564.5 242.5" fill="none" stroke="#000" stroke-width="1.1" stroke-dasharray="5.7 4.4" stroke-dashoffset="-1.9"/><path d="M564.5 242.5L570.5 243.2" fill="none" stroke="#000" stroke-width="1.1" stroke-dasharray="5.7 4.4" stroke-dashoffset="-1.9"/><path d="M570.5 243.2L576.7 246" fill="none" stroke="#000" stroke-width="1.1" stroke-dasharray="5.7 4.4" stroke-dashoffset="-1.9"/><path d="M576.7 246L591.2 245.3" fill="none" stroke="#000" stroke-width="1.1" stroke-dasharray="5.7 4.4" stroke-dashoffset="-1.9"/><path d="M591.2 245.3L605.6 249" fill="none" stroke="#000" stroke-width="1.1" stroke-dasharray="5.7 4.4" stroke-dashoffset="-1.9"/><path d="M605.6 249L619.7 250.7" fill="none" stroke="#000" stroke-width="1.1" stroke-dasharray="5.7 4.4" stroke-dashoffset="-1.9"/><path d="M619.7 250.7L640.5 252.7" fill="none" stroke="#000" stroke-width="1.1" stroke-dasharray="5.7 4.4" stroke-dashoffset="-1.9"/><path d="M640.5 252.7L669 254.8" fill="none" stroke="#000" stroke-width="1.1" stroke-dasharray="5.7 4.4" stroke-dashoffset="-1.9"/><rect x="556.5" y="236.3" width="2.8" height="2.8" fill="#fff" stroke="#666" stroke-width="0.7"/><rect x="558.2" y="238.5" width="2.8" height="2.8" fill="#fff" stroke="#666" stroke-width="0.7"/><rect x="559.3" y="240" width="2.8" height="2.8" fill="#fff" stroke="#666" stroke-width="0.7"/><rect x="563.1" y="241.1" width="2.8" height="2.8" fill="#fff" stroke="#666" stroke-width="0.7"/><rect x="569.1" y="241.8" width="2.8" height="2.8" fill="#fff" stroke="#666" stroke-width="0.7"/><rect x="575.3" y="244.6" width="2.8" height="2.8" fill="#fff" stroke="#666" stroke-width="0.7"/><rect x="589.8" y="243.9" width="2.8" height="2.8" fill="#fff" stroke="#666" stroke-width="0.7"/><rect x="604.2" y="247.6" width="2.8" height="2.8" fill="#fff" stroke="#666" stroke-width="0.7"/><rect x="618.3" y="249.3" width="2.8" height="2.8" fill="#fff" stroke="#666" stroke-width="0.7"/><rect x="639.1" y="251.3" width="2.8" height="2.8" fill="#fff" stroke="#666" stroke-width="0.7"/><rect x="667.6" y="253.4" width="2.8" height="2.8" fill="#fff" stroke="#666" stroke-width="0.7"/><path d="M557.8 229 L559 231.7 L560.1 235 L563.9 233.9 L570 219.7 L576.6 208 L590.6 192.9 L604.7 217.4 L618.7 222.6 L639.9 244.4 L668.1 248.4" fill="none" stroke="#84d247" stroke-width="1.0" stroke-linejoin="round"/><path d="M557.8 226.69L560.2 230.41L555.4 230.41Z" fill="#84d247"/><path d="M559 229.39L561.4 233.11L556.6 233.11Z" fill="#84d247"/><path d="M560.1 232.69L562.5 236.41L557.7 236.41Z" fill="#84d247"/><path d="M563.9 231.59L566.3 235.31L561.5 235.31Z" fill="#84d247"/><path d="M570 217.39L572.4 221.11L567.6 221.11Z" fill="#84d247"/><path d="M576.6 205.69L579 209.41L574.2 209.41Z" fill="#84d247"/><path d="M590.6 190.59L593 194.31L588.2 194.31Z" fill="#84d247"/><path d="M604.7 215.09L607.1 218.81L602.3 218.81Z" fill="#84d247"/><path d="M618.7 220.29L621.1 224.01L616.3 224.01Z" fill="#84d247"/><path d="M639.9 242.09L642.3 245.81L637.5 245.81Z" fill="#84d247"/><path d="M668.1 246.09L670.5 249.81L665.7 249.81Z" fill="#84d247"/><line x1="639.9" y1="180.5" x2="662.7" y2="180.5" stroke="#84d247" stroke-width="1.05"/><path d="M651.3 177.98L653.4 181.24L649.2 181.24Z" fill="#84d247"/><line x1="639.9" y1="193" x2="645.2" y2="193" stroke="#000" stroke-width="1.05"/><line x1="652.8" y1="193" x2="658.1" y2="193" stroke="#000" stroke-width="1.05"/><rect x="649.9" y="191.6" width="2.8" height="2.8" fill="#fff" stroke="#666" stroke-width="0.7"/><text transform="translate(665.2 183.5) scale(1 1.1)" font-size="10">G</text><text transform="translate(665.2 196.7) scale(1 1.1)" font-size="10">K<tspan font-size="7" dy="2.4">G</tspan></text><text transform="translate(556.8 185.7) scale(1 1.05)" font-size="12.5">(H)</text><text transform="translate(620.2 295.7) scale(1 1.08)" font-size="11.9" text-anchor="middle">Time (d)</text><text transform="translate(533 288.8) rotate(-90) scale(1 1.1)" font-size="12">NH<tspan font-size="7.5" dy="2.8">4</tspan><tspan font-size="9.5" dy="-8.2">+</tspan><tspan dy="5.4">-N in sediment (mg/kg)</tspan></text></g>
<g><rect x="27" y="334.8" width="123.1" height="90" fill="none" stroke="#4a4a4a" stroke-width="1"/><line x1="27" y1="424.8" x2="27" y2="427.8" stroke="#4a4a4a" stroke-width="1"/><line x1="47.52" y1="424.8" x2="47.52" y2="427.8" stroke="#4a4a4a" stroke-width="1"/><line x1="68.03" y1="424.8" x2="68.03" y2="427.8" stroke="#4a4a4a" stroke-width="1"/><line x1="88.55" y1="424.8" x2="88.55" y2="427.8" stroke="#4a4a4a" stroke-width="1"/><line x1="109.07" y1="424.8" x2="109.07" y2="427.8" stroke="#4a4a4a" stroke-width="1"/><line x1="129.58" y1="424.8" x2="129.58" y2="427.8" stroke="#4a4a4a" stroke-width="1"/><line x1="150.1" y1="424.8" x2="150.1" y2="427.8" stroke="#4a4a4a" stroke-width="1"/><line x1="24" y1="424.8" x2="27" y2="424.8" stroke="#4a4a4a" stroke-width="1"/><line x1="24" y1="399.09" x2="27" y2="399.09" stroke="#4a4a4a" stroke-width="1"/><line x1="24" y1="373.37" x2="27" y2="373.37" stroke="#4a4a4a" stroke-width="1"/><line x1="24" y1="347.66" x2="27" y2="347.66" stroke="#4a4a4a" stroke-width="1"/><line x1="25.2" y1="411.94" x2="27" y2="411.94" stroke="#4a4a4a" stroke-width="1"/><line x1="25.2" y1="386.23" x2="27" y2="386.23" stroke="#4a4a4a" stroke-width="1"/><line x1="25.2" y1="360.51" x2="27" y2="360.51" stroke="#4a4a4a" stroke-width="1"/><text transform="translate(47.52 439.1) scale(1 1.15)" font-size="11.3" text-anchor="middle">10</text><text transform="translate(68.03 439.1) scale(1 1.15)" font-size="11.3" text-anchor="middle">20</text><text transform="translate(88.55 439.1) scale(1 1.15)" font-size="11.3" text-anchor="middle">30</text><text transform="translate(109.07 439.1) scale(1 1.15)" font-size="11.3" text-anchor="middle">40</text><text transform="translate(129.58 439.1) scale(1 1.15)" font-size="11.3" text-anchor="middle">50</text><text transform="translate(150.1 439.1) scale(1 1.15)" font-size="11.3" text-anchor="middle">60</text><text transform="translate(21.5 429.4) scale(1 1.15)" font-size="11.3" text-anchor="end">0</text><text transform="translate(21.5 403.68) scale(1 1.15)" font-size="11.3" text-anchor="end">2</text><text transform="translate(21.5 377.97) scale(1 1.15)" font-size="11.3" text-anchor="end">4</text><text transform="translate(21.5 352.25) scale(1 1.15)" font-size="11.3" text-anchor="end">6</text><path d="M28.5 414V419M27.5 414H29.5M27.5 419H29.5" stroke="#333" stroke-width="0.8" opacity="0.7" fill="none"/><path d="M31.5 410V418M30.5 410H32.5M30.5 418H32.5" stroke="#333" stroke-width="0.8" opacity="0.7" fill="none"/><path d="M35.5 397.4V409.9M34.5 397.4H36.5M34.5 409.9H36.5" stroke="#333" stroke-width="0.8" opacity="0.7" fill="none"/><path d="M41.5 404V410M40.5 404H42.5M40.5 410H42.5" stroke="#333" stroke-width="0.8" opacity="0.7" fill="none"/><path d="M47.5 355.8V375.9M46.5 355.8H48.5M46.5 375.9H48.5" stroke="#333" stroke-width="0.8" opacity="0.7" fill="none"/><path d="M62.5 369V378M61.5 369H63.5M61.5 378H63.5" stroke="#333" stroke-width="0.8" opacity="0.7" fill="none"/><path d="M76.5 346.4V356.3M75.5 346.4H77.5M75.5 356.3H77.5" stroke="#333" stroke-width="0.8" opacity="0.7" fill="none"/><path d="M90.5 361.3V375.9M89.5 361.3H91.5M89.5 375.9H91.5" stroke="#333" stroke-width="0.8" opacity="0.7" fill="none"/><path d="M111.5 378.6V393.9M110.5 378.6H112.5M110.5 393.9H112.5" stroke="#333" stroke-width="0.8" opacity="0.7" fill="none"/><path d="M140.5 395V401.1M139.5 395H141.5M139.5 401.1H141.5" stroke="#333" stroke-width="0.8" opacity="0.7" fill="none"/><path d="M27.7 420.3L31.1 420.9" fill="none" stroke="#000" stroke-width="1.1" stroke-dasharray="5.7 4.4" stroke-dashoffset="-1.9"/><path d="M31.1 420.9L35.2 421.2" fill="none" stroke="#000" stroke-width="1.1" stroke-dasharray="5.7 4.4" stroke-dashoffset="-1.9"/><path d="M35.2 421.2L41.5 418.1" fill="none" stroke="#000" stroke-width="1.1" stroke-dasharray="5.7 4.4" stroke-dashoffset="-1.9"/><path d="M41.5 418.1L47.7 409" fill="none" stroke="#000" stroke-width="1.1" stroke-dasharray="5.7 4.4" stroke-dashoffset="-1.9"/><path d="M47.7 409L62 412" fill="none" stroke="#000" stroke-width="1.1" stroke-dasharray="5.7 4.4" stroke-dashoffset="-1.9"/><path d="M62 412L76.7 400.9" fill="none" stroke="#000" stroke-width="1.1" stroke-dasharray="5.7 4.4" stroke-dashoffset="-1.9"/><path d="M76.7 400.9L90.9 393.4" fill="none" stroke="#000" stroke-width="1.1" stroke-dasharray="5.7 4.4" stroke-dashoffset="-1.9"/><path d="M90.9 393.4L111.7 401.8" fill="none" stroke="#000" stroke-width="1.1" stroke-dasharray="5.7 4.4" stroke-dashoffset="-1.9"/><path d="M111.7 401.8L140.4 410.9" fill="none" stroke="#000" stroke-width="1.1" stroke-dasharray="5.7 4.4" stroke-dashoffset="-1.9"/><rect x="26.3" y="418.9" width="2.8" height="2.8" fill="#fff" stroke="#666" stroke-width="0.7"/><rect x="29.7" y="419.5" width="2.8" height="2.8" fill="#fff" stroke="#666" stroke-width="0.7"/><rect x="33.8" y="419.8" width="2.8" height="2.8" fill="#fff" stroke="#666" stroke-width="0.7"/><rect x="40.1" y="416.7" width="2.8" height="2.8" fill="#fff" stroke="#666" stroke-width="0.7"/><rect x="46.3" y="407.6" width="2.8" height="2.8" fill="#fff" stroke="#666" stroke-width="0.7"/><rect x="60.6" y="410.6" width="2.8" height="2.8" fill="#fff" stroke="#666" stroke-width="0.7"/><rect x="75.3" y="399.5" width="2.8" height="2.8" fill="#fff" stroke="#666" stroke-width="0.7"/><rect x="89.5" y="392" width="2.8" height="2.8" fill="#fff" stroke="#666" stroke-width="0.7"/><rect x="110.3" y="400.4" width="2.8" height="2.8" fill="#fff" stroke="#666" stroke-width="0.7"/><rect x="139" y="409.5" width="2.8" height="2.8" fill="#fff" stroke="#666" stroke-width="0.7"/><path d="M28.6 416.6 L31.5 414.1 L35.2 403.3 L41.5 407.5 L47.3 365 L62 373.8 L76.6 350.5 L90.9 368.3 L111.7 385.8 L140.4 397.4" fill="none" stroke="#000000" stroke-width="1.15" stroke-linejoin="round"/><path d="M28.6 414.29L31 418.01L26.2 418.01Z" fill="#000000"/><path d="M31.5 411.79L33.9 415.51L29.1 415.51Z" fill="#000000"/><path d="M35.2 400.99L37.6 404.71L32.8 404.71Z" fill="#000000"/><path d="M41.5 405.19L43.9 408.91L39.1 408.91Z" fill="#000000"/><path d="M47.3 362.69L49.7 366.41L44.9 366.41Z" fill="#000000"/><path d="M62 371.49L64.4 375.21L59.6 375.21Z" fill="#000000"/><path d="M76.6 348.19L79 351.91L74.2 351.91Z" fill="#000000"/><path d="M90.9 365.99L93.3 369.71L88.5 369.71Z" fill="#000000"/><path d="M111.7 383.49L114.1 387.21L109.3 387.21Z" fill="#000000"/><path d="M140.4 395.09L142.8 398.81L138 398.81Z" fill="#000000"/><line x1="113" y1="340.5" x2="135.3" y2="340.5" stroke="#000000" stroke-width="1.05"/><path d="M124.15 337.98L126.25 341.24L122.05 341.24Z" fill="#000000"/><line x1="113" y1="352.7" x2="118.3" y2="352.7" stroke="#000" stroke-width="1.05"/><line x1="125.65" y1="352.7" x2="130.95" y2="352.7" stroke="#000" stroke-width="1.05"/><rect x="122.75" y="351.3" width="2.8" height="2.8" fill="#fff" stroke="#666" stroke-width="0.7"/><text transform="translate(137.8 343.8) scale(1 1.1)" font-size="10">D</text><text transform="translate(137.8 356.3) scale(1 1.1)" font-size="10">K<tspan font-size="7" dy="2.4">D</tspan></text><text transform="translate(27.3 346.7) scale(1 1.05)" font-size="12.5">(I)</text><text transform="translate(89.15 454.7) scale(1 1.08)" font-size="11.9" text-anchor="middle">Time (d)</text><text transform="translate(8.8 448.3) rotate(-90) scale(1 1.1)" font-size="12">NO<tspan font-size="7.5" dy="2.8">3</tspan><tspan font-size="8" dy="-7.6">-</tspan><tspan dy="4.8">-N in sediment (mg/kg)</tspan></text></g>
<g><rect x="202.7" y="335.3" width="122.9" height="88.9" fill="none" stroke="#4a4a4a" stroke-width="1"/><line x1="202.7" y1="424.2" x2="202.7" y2="427.2" stroke="#4a4a4a" stroke-width="1"/><line x1="223.18" y1="424.2" x2="223.18" y2="427.2" stroke="#4a4a4a" stroke-width="1"/><line x1="243.67" y1="424.2" x2="243.67" y2="427.2" stroke="#4a4a4a" stroke-width="1"/><line x1="264.15" y1="424.2" x2="264.15" y2="427.2" stroke="#4a4a4a" stroke-width="1"/><line x1="284.63" y1="424.2" x2="284.63" y2="427.2" stroke="#4a4a4a" stroke-width="1"/><line x1="305.12" y1="424.2" x2="305.12" y2="427.2" stroke="#4a4a4a" stroke-width="1"/><line x1="325.6" y1="424.2" x2="325.6" y2="427.2" stroke="#4a4a4a" stroke-width="1"/><line x1="199.7" y1="424.2" x2="202.7" y2="424.2" stroke="#4a4a4a" stroke-width="1"/><line x1="199.7" y1="401.98" x2="202.7" y2="401.98" stroke="#4a4a4a" stroke-width="1"/><line x1="199.7" y1="379.75" x2="202.7" y2="379.75" stroke="#4a4a4a" stroke-width="1"/><line x1="199.7" y1="357.52" x2="202.7" y2="357.52" stroke="#4a4a4a" stroke-width="1"/><line x1="199.7" y1="335.3" x2="202.7" y2="335.3" stroke="#4a4a4a" stroke-width="1"/><line x1="200.9" y1="413.09" x2="202.7" y2="413.09" stroke="#4a4a4a" stroke-width="1"/><line x1="200.9" y1="390.86" x2="202.7" y2="390.86" stroke="#4a4a4a" stroke-width="1"/><line x1="200.9" y1="368.64" x2="202.7" y2="368.64" stroke="#4a4a4a" stroke-width="1"/><line x1="200.9" y1="346.41" x2="202.7" y2="346.41" stroke="#4a4a4a" stroke-width="1"/><text transform="translate(223.18 438.5) scale(1 1.15)" font-size="11.3" text-anchor="middle">10</text><text transform="translate(243.67 438.5) scale(1 1.15)" font-size="11.3" text-anchor="middle">20</text><text transform="translate(264.15 438.5) scale(1 1.15)" font-size="11.3" text-anchor="middle">30</text><text transform="translate(284.63 438.5) scale(1 1.15)" font-size="11.3" text-anchor="middle">40</text><text transform="translate(305.12 438.5) scale(1 1.15)" font-size="11.3" text-anchor="middle">50</text><text transform="translate(325.6 438.5) scale(1 1.15)" font-size="11.3" text-anchor="middle">60</text><text transform="translate(197.2 428.8) scale(1 1.15)" font-size="11.3" text-anchor="end">0</text><text transform="translate(197.2 406.57) scale(1 1.15)" font-size="11.3" text-anchor="end">1</text><text transform="translate(197.2 384.35) scale(1 1.15)" font-size="11.3" text-anchor="end">2</text><text transform="translate(197.2 362.12) scale(1 1.15)" font-size="11.3" text-anchor="end">3</text><text transform="translate(197.2 339.9) scale(1 1.15)" font-size="11.3" text-anchor="end">4</text><path d="M204.5 402V410M203.5 402H205.5M203.5 410H205.5" stroke="#ff0000" stroke-width="0.8" opacity="0.5" fill="none"/><path d="M206.5 382V389M205.5 382H207.5M205.5 389H207.5" stroke="#ff0000" stroke-width="0.8" opacity="0.5" fill="none"/><path d="M210.5 401V407M209.5 401H211.5M209.5 407H211.5" stroke="#ff0000" stroke-width="0.8" opacity="0.5" fill="none"/><path d="M216.5 395V402M215.5 395H217.5M215.5 402H217.5" stroke="#ff0000" stroke-width="0.8" opacity="0.5" fill="none"/><path d="M222.5 360V365M221.5 360H223.5M221.5 365H223.5" stroke="#ff0000" stroke-width="0.8" opacity="0.5" fill="none"/><path d="M237.5 368.3V382.5M236.5 368.3H238.5M236.5 382.5H238.5" stroke="#ff0000" stroke-width="0.8" opacity="0.5" fill="none"/><path d="M251.5 359.5V364M250.5 359.5H252.5M250.5 364H252.5" stroke="#ff0000" stroke-width="0.8" opacity="0.5" fill="none"/><path d="M265.5 359.5V370.5M264.5 359.5H266.5M264.5 370.5H266.5" stroke="#ff0000" stroke-width="0.8" opacity="0.5" fill="none"/><path d="M286.5 373.3V382.1M285.5 373.3H287.5M285.5 382.1H287.5" stroke="#ff0000" stroke-width="0.8" opacity="0.5" fill="none"/><path d="M315.5 385V389M314.5 385H316.5M314.5 389H316.5" stroke="#ff0000" stroke-width="0.8" opacity="0.5" fill="none"/><path d="M203.4 411.1L205.7 412.2" fill="none" stroke="#000" stroke-width="1.1" stroke-dasharray="5.7 4.4" stroke-dashoffset="-1.9"/><path d="M205.7 412.2L210.7 409.9" fill="none" stroke="#000" stroke-width="1.1" stroke-dasharray="5.7 4.4" stroke-dashoffset="-1.9"/><path d="M210.7 409.9L216.4 404.2" fill="none" stroke="#000" stroke-width="1.1" stroke-dasharray="5.7 4.4" stroke-dashoffset="-1.9"/><path d="M216.4 404.2L222.9 402.6" fill="none" stroke="#000" stroke-width="1.1" stroke-dasharray="5.7 4.4" stroke-dashoffset="-1.9"/><path d="M222.9 402.6L237.4 395.6" fill="none" stroke="#000" stroke-width="1.1" stroke-dasharray="5.7 4.4" stroke-dashoffset="-1.9"/><path d="M237.4 395.6L251.7 395.2" fill="none" stroke="#000" stroke-width="1.1" stroke-dasharray="5.7 4.4" stroke-dashoffset="-1.9"/><path d="M251.7 395.2L265.9 389.1" fill="none" stroke="#000" stroke-width="1.1" stroke-dasharray="5.7 4.4" stroke-dashoffset="-1.9"/><path d="M265.9 389.1L286.7 385.1" fill="none" stroke="#000" stroke-width="1.1" stroke-dasharray="5.7 4.4" stroke-dashoffset="-1.9"/><path d="M286.7 385.1L315.4 389.1" fill="none" stroke="#000" stroke-width="1.1" stroke-dasharray="5.7 4.4" stroke-dashoffset="-1.9"/><rect x="202" y="409.7" width="2.8" height="2.8" fill="#fff" stroke="#666" stroke-width="0.7"/><rect x="204.3" y="410.8" width="2.8" height="2.8" fill="#fff" stroke="#666" stroke-width="0.7"/><rect x="209.3" y="408.5" width="2.8" height="2.8" fill="#fff" stroke="#666" stroke-width="0.7"/><rect x="215" y="402.8" width="2.8" height="2.8" fill="#fff" stroke="#666" stroke-width="0.7"/><rect x="221.5" y="401.2" width="2.8" height="2.8" fill="#fff" stroke="#666" stroke-width="0.7"/><rect x="236" y="394.2" width="2.8" height="2.8" fill="#fff" stroke="#666" stroke-width="0.7"/><rect x="250.3" y="393.8" width="2.8" height="2.8" fill="#fff" stroke="#666" stroke-width="0.7"/><rect x="264.5" y="387.7" width="2.8" height="2.8" fill="#fff" stroke="#666" stroke-width="0.7"/><rect x="285.3" y="383.7" width="2.8" height="2.8" fill="#fff" stroke="#666" stroke-width="0.7"/><rect x="314" y="387.7" width="2.8" height="2.8" fill="#fff" stroke="#666" stroke-width="0.7"/><path d="M204.1 405.8 L206.3 385.1 L210.2 404.2 L216.4 398.9 L222.4 362.4 L237.4 374.2 L251.8 361.7 L265.9 364.6 L286.7 377.7 L315.4 386.9" fill="none" stroke="#ff0000" stroke-width="1.0" stroke-linejoin="round"/><path d="M204.1 403.49L206.5 407.21L201.7 407.21Z" fill="#ff0000"/><path d="M206.3 382.79L208.7 386.51L203.9 386.51Z" fill="#ff0000"/><path d="M210.2 401.89L212.6 405.61L207.8 405.61Z" fill="#ff0000"/><path d="M216.4 396.59L218.8 400.31L214 400.31Z" fill="#ff0000"/><path d="M222.4 360.09L224.8 363.81L220 363.81Z" fill="#ff0000"/><path d="M237.4 371.89L239.8 375.61L235 375.61Z" fill="#ff0000"/><path d="M251.8 359.39L254.2 363.11L249.4 363.11Z" fill="#ff0000"/><path d="M265.9 362.29L268.3 366.01L263.5 366.01Z" fill="#ff0000"/><path d="M286.7 375.39L289.1 379.11L284.3 379.11Z" fill="#ff0000"/><path d="M315.4 384.59L317.8 388.31L313 388.31Z" fill="#ff0000"/><line x1="288.9" y1="340" x2="312.1" y2="340" stroke="#ff0000" stroke-width="1.05"/><path d="M300.5 337.48L302.6 340.74L298.4 340.74Z" fill="#ff0000"/><line x1="288.9" y1="352.7" x2="294.2" y2="352.7" stroke="#000" stroke-width="1.05"/><line x1="302" y1="352.7" x2="307.3" y2="352.7" stroke="#000" stroke-width="1.05"/><circle cx="300.5" cy="352.7" r="1.5" fill="#fff" stroke="#555" stroke-width="0.7"/><text transform="translate(314.5 343.3) scale(1 1.1)" font-size="10">L</text><text transform="translate(314.5 356.3) scale(1 1.1)" font-size="10">K<tspan font-size="7" dy="2.4">L</tspan></text><text transform="translate(203 346.7) scale(1 1.05)" font-size="12.5">(J)</text><text transform="translate(261.05 454.7) scale(1 1.08)" font-size="11.9" text-anchor="middle">Time (d)</text><text transform="translate(184.6 448.3) rotate(-90) scale(1 1.1)" font-size="12">NO<tspan font-size="7.5" dy="2.8">3</tspan><tspan font-size="8" dy="-7.6">-</tspan><tspan dy="4.8">-N in sediment (mg/kg)</tspan></text></g>
<g><rect x="377.3" y="335.3" width="123.7" height="89.1" fill="none" stroke="#4a4a4a" stroke-width="1"/><line x1="377.3" y1="424.4" x2="377.3" y2="427.4" stroke="#4a4a4a" stroke-width="1"/><line x1="397.92" y1="424.4" x2="397.92" y2="427.4" stroke="#4a4a4a" stroke-width="1"/><line x1="418.53" y1="424.4" x2="418.53" y2="427.4" stroke="#4a4a4a" stroke-width="1"/><line x1="439.15" y1="424.4" x2="439.15" y2="427.4" stroke="#4a4a4a" stroke-width="1"/><line x1="459.77" y1="424.4" x2="459.77" y2="427.4" stroke="#4a4a4a" stroke-width="1"/><line x1="480.38" y1="424.4" x2="480.38" y2="427.4" stroke="#4a4a4a" stroke-width="1"/><line x1="501" y1="424.4" x2="501" y2="427.4" stroke="#4a4a4a" stroke-width="1"/><line x1="374.3" y1="424.4" x2="377.3" y2="424.4" stroke="#4a4a4a" stroke-width="1"/><line x1="374.3" y1="402.12" x2="377.3" y2="402.12" stroke="#4a4a4a" stroke-width="1"/><line x1="374.3" y1="379.85" x2="377.3" y2="379.85" stroke="#4a4a4a" stroke-width="1"/><line x1="374.3" y1="357.57" x2="377.3" y2="357.57" stroke="#4a4a4a" stroke-width="1"/><line x1="374.3" y1="335.3" x2="377.3" y2="335.3" stroke="#4a4a4a" stroke-width="1"/><line x1="375.5" y1="413.26" x2="377.3" y2="413.26" stroke="#4a4a4a" stroke-width="1"/><line x1="375.5" y1="390.99" x2="377.3" y2="390.99" stroke="#4a4a4a" stroke-width="1"/><line x1="375.5" y1="368.71" x2="377.3" y2="368.71" stroke="#4a4a4a" stroke-width="1"/><line x1="375.5" y1="346.44" x2="377.3" y2="346.44" stroke="#4a4a4a" stroke-width="1"/><text transform="translate(397.92 438.7) scale(1 1.15)" font-size="11.3" text-anchor="middle">10</text><text transform="translate(418.53 438.7) scale(1 1.15)" font-size="11.3" text-anchor="middle">20</text><text transform="translate(439.15 438.7) scale(1 1.15)" font-size="11.3" text-anchor="middle">30</text><text transform="translate(459.77 438.7) scale(1 1.15)" font-size="11.3" text-anchor="middle">40</text><text transform="translate(480.38 438.7) scale(1 1.15)" font-size="11.3" text-anchor="middle">50</text><text transform="translate(501 438.7) scale(1 1.15)" font-size="11.3" text-anchor="middle">60</text><text transform="translate(371.8 429) scale(1 1.15)" font-size="11.3" text-anchor="end">0</text><text transform="translate(371.8 406.72) scale(1 1.15)" font-size="11.3" text-anchor="end">1</text><text transform="translate(371.8 384.45) scale(1 1.15)" font-size="11.3" text-anchor="end">2</text><text transform="translate(371.8 362.17) scale(1 1.15)" font-size="11.3" text-anchor="end">3</text><text transform="translate(371.8 339.9) scale(1 1.15)" font-size="11.3" text-anchor="end">4</text><path d="M379.5 393V408M378.5 393H380.5M378.5 408H380.5" stroke="#1010ff" stroke-width="0.8" opacity="0.5" fill="none"/><path d="M381.5 388V403M380.5 388H382.5M380.5 403H382.5" stroke="#1010ff" stroke-width="0.8" opacity="0.5" fill="none"/><path d="M385.5 390V402M384.5 390H386.5M384.5 402H386.5" stroke="#1010ff" stroke-width="0.8" opacity="0.5" fill="none"/><path d="M391.5 395V410M390.5 395H392.5M390.5 410H392.5" stroke="#1010ff" stroke-width="0.8" opacity="0.5" fill="none"/><path d="M398.5 373V386M397.5 373H399.5M397.5 386H399.5" stroke="#1010ff" stroke-width="0.8" opacity="0.5" fill="none"/><path d="M412.5 380V393.8M411.5 380H413.5M411.5 393.8H413.5" stroke="#1010ff" stroke-width="0.8" opacity="0.5" fill="none"/><path d="M427.5 393V399M426.5 393H428.5M426.5 399H428.5" stroke="#1010ff" stroke-width="0.8" opacity="0.5" fill="none"/><path d="M441.5 385V390M440.5 385H442.5M440.5 390H442.5" stroke="#1010ff" stroke-width="0.8" opacity="0.5" fill="none"/><path d="M462.5 380.3V393.9M461.5 380.3H463.5M461.5 393.9H463.5" stroke="#1010ff" stroke-width="0.8" opacity="0.5" fill="none"/><path d="M490.5 387.3V401.1M489.5 387.3H491.5M489.5 401.1H491.5" stroke="#1010ff" stroke-width="0.8" opacity="0.5" fill="none"/><path d="M380.2 413.9L382.6 411.4" fill="none" stroke="#000" stroke-width="1.1" stroke-dasharray="5.7 4.4" stroke-dashoffset="-1.9"/><path d="M382.6 411.4L386 411.1" fill="none" stroke="#000" stroke-width="1.1" stroke-dasharray="5.7 4.4" stroke-dashoffset="-1.9"/><path d="M386 411.1L392.4 411.8" fill="none" stroke="#000" stroke-width="1.1" stroke-dasharray="5.7 4.4" stroke-dashoffset="-1.9"/><path d="M392.4 411.8L398.3 409.2" fill="none" stroke="#000" stroke-width="1.1" stroke-dasharray="5.7 4.4" stroke-dashoffset="-1.9"/><path d="M398.3 409.2L412.9 407.2" fill="none" stroke="#000" stroke-width="1.1" stroke-dasharray="5.7 4.4" stroke-dashoffset="-1.9"/><path d="M412.9 407.2L427.4 401.8" fill="none" stroke="#000" stroke-width="1.1" stroke-dasharray="5.7 4.4" stroke-dashoffset="-1.9"/><path d="M427.4 401.8L441.6 399.6" fill="none" stroke="#000" stroke-width="1.1" stroke-dasharray="5.7 4.4" stroke-dashoffset="-1.9"/><path d="M441.6 399.6L462.8 394.5" fill="none" stroke="#000" stroke-width="1.1" stroke-dasharray="5.7 4.4" stroke-dashoffset="-1.9"/><path d="M462.8 394.5L491.3 398.3" fill="none" stroke="#000" stroke-width="1.1" stroke-dasharray="5.7 4.4" stroke-dashoffset="-1.9"/><rect x="378.8" y="412.5" width="2.8" height="2.8" fill="#fff" stroke="#666" stroke-width="0.7"/><rect x="381.2" y="410" width="2.8" height="2.8" fill="#fff" stroke="#666" stroke-width="0.7"/><rect x="384.6" y="409.7" width="2.8" height="2.8" fill="#fff" stroke="#666" stroke-width="0.7"/><rect x="391" y="410.4" width="2.8" height="2.8" fill="#fff" stroke="#666" stroke-width="0.7"/><rect x="396.9" y="407.8" width="2.8" height="2.8" fill="#fff" stroke="#666" stroke-width="0.7"/><rect x="411.5" y="405.8" width="2.8" height="2.8" fill="#fff" stroke="#666" stroke-width="0.7"/><rect x="426" y="400.4" width="2.8" height="2.8" fill="#fff" stroke="#666" stroke-width="0.7"/><rect x="440.2" y="398.2" width="2.8" height="2.8" fill="#fff" stroke="#666" stroke-width="0.7"/><rect x="461.4" y="393.1" width="2.8" height="2.8" fill="#fff" stroke="#666" stroke-width="0.7"/><rect x="489.9" y="396.9" width="2.8" height="2.8" fill="#fff" stroke="#666" stroke-width="0.7"/><path d="M377.8 411 L379.6 401.4 L381.4 395.7 L385.5 396.1 L391.7 402.6 L398.1 379.3 L412.5 386.4 L427.2 396.3 L441.4 387.3 L462.4 387.5 L490.8 393.9" fill="none" stroke="#1010ff" stroke-width="1.0" stroke-linejoin="round"/><path d="M379.6 399.09L382 402.81L377.2 402.81Z" fill="#1010ff"/><path d="M381.4 393.39L383.8 397.11L379 397.11Z" fill="#1010ff"/><path d="M385.5 393.79L387.9 397.51L383.1 397.51Z" fill="#1010ff"/><path d="M391.7 400.29L394.1 404.01L389.3 404.01Z" fill="#1010ff"/><path d="M398.1 376.99L400.5 380.71L395.7 380.71Z" fill="#1010ff"/><path d="M412.5 384.09L414.9 387.81L410.1 387.81Z" fill="#1010ff"/><path d="M427.2 393.99L429.6 397.71L424.8 397.71Z" fill="#1010ff"/><path d="M441.4 384.99L443.8 388.71L439 388.71Z" fill="#1010ff"/><path d="M462.4 385.19L464.8 388.91L460 388.91Z" fill="#1010ff"/><path d="M490.8 391.59L493.2 395.31L488.4 395.31Z" fill="#1010ff"/><line x1="464.6" y1="341.5" x2="486.9" y2="341.5" stroke="#1010ff" stroke-width="1.05"/><path d="M475.75 338.98L477.85 342.24L473.65 342.24Z" fill="#1010ff"/><line x1="464.6" y1="354.2" x2="469.9" y2="354.2" stroke="#000" stroke-width="1.05"/><line x1="477.25" y1="354.2" x2="482.55" y2="354.2" stroke="#000" stroke-width="1.05"/><rect x="474.35" y="352.8" width="2.8" height="2.8" fill="#fff" stroke="#666" stroke-width="0.7"/><text transform="translate(489.5 344.9) scale(1 1.1)" font-size="10">T</text><text transform="translate(489.5 357.9) scale(1 1.1)" font-size="10">K<tspan font-size="7" dy="2.4">T</tspan></text><text transform="translate(377.6 346.7) scale(1 1.05)" font-size="12.5">(K)</text><text transform="translate(438.6 454.7) scale(1 1.08)" font-size="11.9" text-anchor="middle">Time (d)</text><text transform="translate(359.7 448.3) rotate(-90) scale(1 1.1)" font-size="12">NO<tspan font-size="7.5" dy="2.8">3</tspan><tspan font-size="8" dy="-7.6">-</tspan><tspan dy="4.8">-N in sediment (mg/kg)</tspan></text></g>
<g><rect x="552.8" y="335.3" width="123.5" height="89.5" fill="none" stroke="#4a4a4a" stroke-width="1"/><line x1="552.8" y1="424.8" x2="552.8" y2="427.8" stroke="#4a4a4a" stroke-width="1"/><line x1="573.38" y1="424.8" x2="573.38" y2="427.8" stroke="#4a4a4a" stroke-width="1"/><line x1="593.97" y1="424.8" x2="593.97" y2="427.8" stroke="#4a4a4a" stroke-width="1"/><line x1="614.55" y1="424.8" x2="614.55" y2="427.8" stroke="#4a4a4a" stroke-width="1"/><line x1="635.13" y1="424.8" x2="635.13" y2="427.8" stroke="#4a4a4a" stroke-width="1"/><line x1="655.72" y1="424.8" x2="655.72" y2="427.8" stroke="#4a4a4a" stroke-width="1"/><line x1="676.3" y1="424.8" x2="676.3" y2="427.8" stroke="#4a4a4a" stroke-width="1"/><line x1="549.8" y1="424.8" x2="552.8" y2="424.8" stroke="#4a4a4a" stroke-width="1"/><line x1="549.8" y1="411.03" x2="552.8" y2="411.03" stroke="#4a4a4a" stroke-width="1"/><line x1="549.8" y1="397.26" x2="552.8" y2="397.26" stroke="#4a4a4a" stroke-width="1"/><line x1="549.8" y1="383.49" x2="552.8" y2="383.49" stroke="#4a4a4a" stroke-width="1"/><line x1="549.8" y1="369.72" x2="552.8" y2="369.72" stroke="#4a4a4a" stroke-width="1"/><line x1="549.8" y1="355.95" x2="552.8" y2="355.95" stroke="#4a4a4a" stroke-width="1"/><line x1="549.8" y1="342.18" x2="552.8" y2="342.18" stroke="#4a4a4a" stroke-width="1"/><line x1="551" y1="417.92" x2="552.8" y2="417.92" stroke="#4a4a4a" stroke-width="1"/><line x1="551" y1="404.15" x2="552.8" y2="404.15" stroke="#4a4a4a" stroke-width="1"/><line x1="551" y1="390.38" x2="552.8" y2="390.38" stroke="#4a4a4a" stroke-width="1"/><line x1="551" y1="376.61" x2="552.8" y2="376.61" stroke="#4a4a4a" stroke-width="1"/><line x1="551" y1="362.84" x2="552.8" y2="362.84" stroke="#4a4a4a" stroke-width="1"/><line x1="551" y1="349.07" x2="552.8" y2="349.07" stroke="#4a4a4a" stroke-width="1"/><text transform="translate(573.38 439.1) scale(1 1.15)" font-size="11.3" text-anchor="middle">10</text><text transform="translate(593.97 439.1) scale(1 1.15)" font-size="11.3" text-anchor="middle">20</text><text transform="translate(614.55 439.1) scale(1 1.15)" font-size="11.3" text-anchor="middle">30</text><text transform="translate(635.13 439.1) scale(1 1.15)" font-size="11.3" text-anchor="middle">40</text><text transform="translate(655.72 439.1) scale(1 1.15)" font-size="11.3" text-anchor="middle">50</text><text transform="translate(676.3 439.1) scale(1 1.15)" font-size="11.3" text-anchor="middle">60</text><text x="548" y="427" font-size="5.6" text-anchor="end" fill="#444">0</text><text x="548" y="413.23" font-size="5.6" text-anchor="end" fill="#444">1</text><text x="548" y="399.47" font-size="5.6" text-anchor="end" fill="#444">2</text><text x="548" y="385.7" font-size="5.6" text-anchor="end" fill="#444">3</text><text x="548" y="371.93" font-size="5.6" text-anchor="end" fill="#444">4</text><text x="548" y="358.16" font-size="5.6" text-anchor="end" fill="#444">5</text><text x="548" y="344.39" font-size="5.6" text-anchor="end" fill="#444">6</text><path d="M553.5 362.7V381.3M552.5 362.7H554.5M552.5 381.3H554.5" stroke="#84d247" stroke-width="0.8" opacity="0.5" fill="none"/><path d="M554.5 346V352M553.5 346H555.5M553.5 352H555.5" stroke="#84d247" stroke-width="0.8" opacity="0.5" fill="none"/><path d="M556.5 345V350M555.5 345H557.5M555.5 350H557.5" stroke="#84d247" stroke-width="0.8" opacity="0.5" fill="none"/><path d="M561.5 351V356M560.5 351H562.5M560.5 356H562.5" stroke="#84d247" stroke-width="0.8" opacity="0.5" fill="none"/><path d="M567.5 355V360M566.5 355H568.5M566.5 360H568.5" stroke="#84d247" stroke-width="0.8" opacity="0.5" fill="none"/><path d="M573.5 364V369M572.5 364H574.5M572.5 369H574.5" stroke="#84d247" stroke-width="0.8" opacity="0.5" fill="none"/><path d="M587.5 373V378M586.5 373H588.5M586.5 378H588.5" stroke="#84d247" stroke-width="0.8" opacity="0.5" fill="none"/><path d="M616.5 375.9V388M615.5 375.9H617.5M615.5 388H617.5" stroke="#84d247" stroke-width="0.8" opacity="0.5" fill="none"/><path d="M637.5 372.6V383.6M636.5 372.6H638.5M636.5 383.6H638.5" stroke="#84d247" stroke-width="0.8" opacity="0.5" fill="none"/><path d="M666.5 378.5V384.2M665.5 378.5H667.5M665.5 384.2H667.5" stroke="#84d247" stroke-width="0.8" opacity="0.5" fill="none"/><path d="M553.4 371.1L556.4 363.3" fill="none" stroke="#000" stroke-width="1.1" stroke-dasharray="5.7 4.4" stroke-dashoffset="-1.9"/><path d="M556.4 363.3L557.6 363.9" fill="none" stroke="#000" stroke-width="1.1" stroke-dasharray="5.7 4.4" stroke-dashoffset="-1.9"/><path d="M557.6 363.9L561.8 358.5" fill="none" stroke="#000" stroke-width="1.1" stroke-dasharray="5.7 4.4" stroke-dashoffset="-1.9"/><path d="M561.8 358.5L567.3 364.5" fill="none" stroke="#000" stroke-width="1.1" stroke-dasharray="5.7 4.4" stroke-dashoffset="-1.9"/><path d="M567.3 364.5L573.6 372" fill="none" stroke="#000" stroke-width="1.1" stroke-dasharray="5.7 4.4" stroke-dashoffset="-1.9"/><path d="M573.6 372L587.9 381.8" fill="none" stroke="#000" stroke-width="1.1" stroke-dasharray="5.7 4.4" stroke-dashoffset="-1.9"/><path d="M587.9 381.8L602.8 388.4" fill="none" stroke="#000" stroke-width="1.1" stroke-dasharray="5.7 4.4" stroke-dashoffset="-1.9"/><path d="M602.8 388.4L617 396.7" fill="none" stroke="#000" stroke-width="1.1" stroke-dasharray="5.7 4.4" stroke-dashoffset="-1.9"/><path d="M617 396.7L638.2 402.8" fill="none" stroke="#000" stroke-width="1.1" stroke-dasharray="5.7 4.4" stroke-dashoffset="-1.9"/><path d="M638.2 402.8L666.2 409.2" fill="none" stroke="#000" stroke-width="1.1" stroke-dasharray="5.7 4.4" stroke-dashoffset="-1.9"/><rect x="552" y="369.7" width="2.8" height="2.8" fill="#fff" stroke="#666" stroke-width="0.7"/><rect x="555" y="361.9" width="2.8" height="2.8" fill="#fff" stroke="#666" stroke-width="0.7"/><rect x="556.2" y="362.5" width="2.8" height="2.8" fill="#fff" stroke="#666" stroke-width="0.7"/><rect x="560.4" y="357.1" width="2.8" height="2.8" fill="#fff" stroke="#666" stroke-width="0.7"/><rect x="565.9" y="363.1" width="2.8" height="2.8" fill="#fff" stroke="#666" stroke-width="0.7"/><rect x="572.2" y="370.6" width="2.8" height="2.8" fill="#fff" stroke="#666" stroke-width="0.7"/><rect x="586.5" y="380.4" width="2.8" height="2.8" fill="#fff" stroke="#666" stroke-width="0.7"/><rect x="601.4" y="387" width="2.8" height="2.8" fill="#fff" stroke="#666" stroke-width="0.7"/><rect x="615.6" y="395.3" width="2.8" height="2.8" fill="#fff" stroke="#666" stroke-width="0.7"/><rect x="636.8" y="401.4" width="2.8" height="2.8" fill="#fff" stroke="#666" stroke-width="0.7"/><rect x="664.8" y="407.8" width="2.8" height="2.8" fill="#fff" stroke="#666" stroke-width="0.7"/><path d="M553.2 369.9 L554 348.8 L556.4 347.6 L561.2 353.7 L567.3 357.3 L573.3 366.5 L587.5 375.9 L602.1 383.1 L616.4 381.4 L637.4 377.7 L666.2 381.4" fill="none" stroke="#84d247" stroke-width="1.0" stroke-linejoin="round"/><path d="M554 346.49L556.4 350.21L551.6 350.21Z" fill="#84d247"/><path d="M556.4 345.29L558.8 349.01L554 349.01Z" fill="#84d247"/><path d="M561.2 351.39L563.6 355.11L558.8 355.11Z" fill="#84d247"/><path d="M567.3 354.99L569.7 358.71L564.9 358.71Z" fill="#84d247"/><path d="M573.3 364.19L575.7 367.91L570.9 367.91Z" fill="#84d247"/><path d="M587.5 373.59L589.9 377.31L585.1 377.31Z" fill="#84d247"/><path d="M602.1 380.79L604.5 384.51L599.7 384.51Z" fill="#84d247"/><path d="M616.4 379.09L618.8 382.81L614 382.81Z" fill="#84d247"/><path d="M637.4 375.39L639.8 379.11L635 379.11Z" fill="#84d247"/><path d="M666.2 379.09L668.6 382.81L663.8 382.81Z" fill="#84d247"/><line x1="640" y1="340.5" x2="661.8" y2="340.5" stroke="#84d247" stroke-width="1.05"/><path d="M650.9 337.98L653 341.24L648.8 341.24Z" fill="#84d247"/><line x1="640" y1="353" x2="645.3" y2="353" stroke="#000" stroke-width="1.05"/><line x1="652.4" y1="353" x2="657.7" y2="353" stroke="#000" stroke-width="1.05"/><rect x="649.5" y="351.6" width="2.8" height="2.8" fill="#fff" stroke="#666" stroke-width="0.7"/><text transform="translate(664.5 343.8) scale(1 1.1)" font-size="10">G</text><text transform="translate(664.5 356.8) scale(1 1.1)" font-size="10">K<tspan font-size="7" dy="2.4">G</tspan></text><text transform="translate(560.4 346.7) scale(1 1.05)" font-size="12.5">(L)</text><text transform="translate(617.8 454.7) scale(1 1.08)" font-size="11.9" text-anchor="middle">Time (d)</text><text transform="translate(538.2 448.3) rotate(-90) scale(1 1.1)" font-size="12">NO<tspan font-size="7.5" dy="2.8">3</tspan><tspan font-size="8" dy="-7.6">-</tspan><tspan dy="4.8">-N in sediment (mg/kg)</tspan></text></g></svg>
</body></html>
